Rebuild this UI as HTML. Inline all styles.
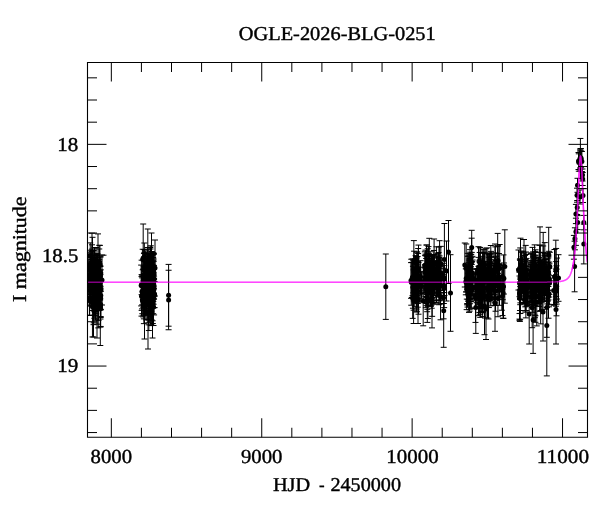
<!DOCTYPE html>
<html><head><meta charset="utf-8"><title>OGLE-2026-BLG-0251</title>
<style>
html,body{margin:0;padding:0;background:#fff;}
svg{display:block;will-change:transform;font-family:"Liberation Serif",serif;}
text{fill:#000;stroke:#000;stroke-width:0.4px;stroke-linejoin:round;text-rendering:geometricPrecision;}
</style></head><body>
<svg width="600" height="512" viewBox="0 0 600 512">
<rect width="600" height="512" fill="#fff"/>
<clipPath id="fr"><rect x="87.5" y="62.5" width="500.0" height="374.75"/></clipPath>
<g clip-path="url(#fr)">
<path d="M90.71 260.79V284.93M87.71 260.79h6M87.71 284.93h6M91.74 259.49V282.25M88.74 259.49h6M88.74 282.25h6M92.75 262.52V291.88M89.75 262.52h6M89.75 291.88h6M93.22 255.99V283.93M90.22 255.99h6M90.22 283.93h6M89.46 285.94V315.45M86.46 285.94h6M86.46 315.45h6M90.72 264.26V288.3M87.72 264.26h6M87.72 288.3h6M89.67 280.5V315.17M86.67 280.5h6M86.67 315.17h6M90.98 266.08V289.98M87.98 266.08h6M87.98 289.98h6M90.75 269.92V294.15M87.75 269.92h6M87.75 294.15h6M91.82 268.16V288.16M88.82 268.16h6M88.82 288.16h6M89.99 271.38V298.31M86.99 271.38h6M86.99 298.31h6M93.18 257.98V287.33M90.18 257.98h6M90.18 287.33h6M90.75 267.92V292.09M87.75 267.92h6M87.75 292.09h6M88.92 252.01V278.53M85.92 252.01h6M85.92 278.53h6M92.03 244.81V272.04M89.03 244.81h6M89.03 272.04h6M89.46 265.3V286.06M86.46 265.3h6M86.46 286.06h6M90.58 257.46V281.59M87.58 257.46h6M87.58 281.59h6M90.82 273.89V298.76M87.82 273.89h6M87.82 298.76h6M90.68 259.27V279.37M87.68 259.27h6M87.68 279.37h6M91.08 280.15V300.15M88.08 280.15h6M88.08 300.15h6M91.3 261.53V286.57M88.3 261.53h6M88.3 286.57h6M90.7 262.78V305.76M87.7 262.78h6M87.7 305.76h6M92.02 263.16V283.16M89.02 263.16h6M89.02 283.16h6M91.69 272.03V292.28M88.69 272.03h6M88.69 292.28h6M89.61 267.73V304.1M86.61 267.73h6M86.61 304.1h6M90.89 269.92V294.2M87.89 269.92h6M87.89 294.2h6M92.01 251.21V281.69M89.01 251.21h6M89.01 281.69h6M91.67 262.05V289.97M88.67 262.05h6M88.67 289.97h6M89.59 275.1V305.97M86.59 275.1h6M86.59 305.97h6M89.12 263.1V294.84M86.12 263.1h6M86.12 294.84h6M89.63 269.42V294.92M86.63 269.42h6M86.63 294.92h6M90.7 268.34V290.67M87.7 268.34h6M87.7 290.67h6M90.23 242.89V268.29M87.23 242.89h6M87.23 268.29h6M90.94 273.91V293.91M87.94 273.91h6M87.94 293.91h6M89.31 266.18V287.55M86.31 266.18h6M86.31 287.55h6M90.52 254.24V279.04M87.52 254.24h6M87.52 279.04h6M90.92 267.46V293.99M87.92 267.46h6M87.92 293.99h6M90.88 250.23V281.4M87.88 250.23h6M87.88 281.4h6M90.92 269.86V294.57M87.92 269.86h6M87.92 294.57h6M92.01 249.14V275.23M89.01 249.14h6M89.01 275.23h6M94.63 260.33V292.39M91.63 260.33h6M91.63 292.39h6M100.49 274.67V319.02M97.49 274.67h6M97.49 319.02h6M98.33 267.26V294.47M95.33 267.26h6M95.33 294.47h6M98.54 290.03V320.39M95.54 290.03h6M95.54 320.39h6M95.42 285.56V320.03M92.42 285.56h6M92.42 320.03h6M96.97 255.03V287.45M93.97 255.03h6M93.97 287.45h6M100.38 265.97V286.14M97.38 265.97h6M97.38 286.14h6M96.65 269.82V295.29M93.65 269.82h6M93.65 295.29h6M94.39 265.5V285.5M91.39 265.5h6M91.39 285.5h6M100.69 269.74V309.5M97.69 269.74h6M97.69 309.5h6M99.07 274.98V307.02M96.07 274.98h6M96.07 307.02h6M93.83 270.11V296.7M90.83 270.11h6M90.83 296.7h6M94.48 247.77V272.83M91.48 247.77h6M91.48 272.83h6M93.5 280.05V301.81M90.5 280.05h6M90.5 301.81h6M93.58 277.81V301.42M90.58 277.81h6M90.58 301.42h6M95.94 280.07V310.57M92.94 280.07h6M92.94 310.57h6M95.47 261.43V302.27M92.47 261.43h6M92.47 302.27h6M96.15 277.45V309.45M93.15 277.45h6M93.15 309.45h6M96.77 254.22V274.23M93.77 254.22h6M93.77 274.23h6M99.89 256.85V295.24M96.89 256.85h6M96.89 295.24h6M97.97 272.54V298.02M94.97 272.54h6M94.97 298.02h6M97.67 261.62V289.38M94.67 261.62h6M94.67 289.38h6M96.17 278.03V313.67M93.17 278.03h6M93.17 313.67h6M99.07 261.56V296.66M96.07 261.56h6M96.07 296.66h6M97.3 279.46V299.46M94.3 279.46h6M94.3 299.46h6M93.7 250.55V278.61M90.7 250.55h6M90.7 278.61h6M97.32 272.96V303.53M94.32 272.96h6M94.32 303.53h6M93.5 261.83V291.14M90.5 261.83h6M90.5 291.14h6M100.44 286.83V327.14M97.44 286.83h6M97.44 327.14h6M94.77 277.52V297.52M91.77 277.52h6M91.77 297.52h6M100.17 270.64V299.98M97.17 270.64h6M97.17 299.98h6M99.46 281.86V301.96M96.46 281.86h6M96.46 301.96h6M94.53 257.11V292.11M91.53 257.11h6M91.53 292.11h6M96.21 253.76V288.1M93.21 253.76h6M93.21 288.1h6M95.32 262.44V305.4M92.32 262.44h6M92.32 305.4h6M95.8 261.01V296.34M92.8 261.01h6M92.8 296.34h6M97.26 259.0V279.0M94.26 259.0h6M94.26 279.0h6M94.47 257.51V291.13M91.47 257.51h6M91.47 291.13h6M94.85 247.81V282.58M91.85 247.81h6M91.85 282.58h6M97.49 253.76V281.6M94.49 253.76h6M94.49 281.6h6M95.2 267.18V287.18M92.2 267.18h6M92.2 287.18h6M94.47 274.67V298.69M91.47 274.67h6M91.47 298.69h6M100.71 280.68V316.55M97.71 280.68h6M97.71 316.55h6M97.29 268.59V288.94M94.29 268.59h6M94.29 288.94h6M100.11 265.92V287.7M97.11 265.92h6M97.11 287.7h6M99.95 245.36V283.26M96.95 245.36h6M96.95 283.26h6M97.15 295.66V324.17M94.15 295.66h6M94.15 324.17h6M96.92 255.62V288.67M93.92 255.62h6M93.92 288.67h6M94.69 277.55V303.06M91.69 277.55h6M91.69 303.06h6M94.33 288.47V318.28M91.33 288.47h6M91.33 318.28h6M93.76 276.99V296.99M90.76 276.99h6M90.76 296.99h6M99.21 259.71V285.3M96.21 259.71h6M96.21 285.3h6M93.73 298.37V322.8M90.73 298.37h6M90.73 322.8h6M97.85 274.85V303.58M94.85 274.85h6M94.85 303.58h6M95.01 277.91V298.41M92.01 277.91h6M92.01 298.41h6M100.68 291.04V326.46M97.68 291.04h6M97.68 326.46h6M93.5 284.33V324.66M90.5 284.33h6M90.5 324.66h6M98.25 266.73V304.87M95.25 266.73h6M95.25 304.87h6M100.79 256.89V288.91M97.79 256.89h6M97.79 288.91h6M94.4 288.18V315.29M91.4 288.18h6M91.4 315.29h6M98.37 264.41V285.88M95.37 264.41h6M95.37 285.88h6M95.52 275.18V299.5M92.52 275.18h6M92.52 299.5h6M94.63 280.46V302.79M91.63 280.46h6M91.63 302.79h6M93.5 272.48V302.09M90.5 272.48h6M90.5 302.09h6M95.19 273.65V302.93M92.19 273.65h6M92.19 302.93h6M100.8 281.34V309.84M97.8 281.34h6M97.8 309.84h6M96.02 247.54V282.21M93.02 247.54h6M93.02 282.21h6M97.53 282.64V309.67M94.53 282.64h6M94.53 309.67h6M96.69 280.16V309.45M93.69 280.16h6M93.69 309.45h6M95.04 272.49V295.25M92.04 272.49h6M92.04 295.25h6M93.98 275.43V302.81M90.98 275.43h6M90.98 302.81h6M95.64 286.55V308.04M92.64 286.55h6M92.64 308.04h6M96.68 272.06V297.19M93.68 272.06h6M93.68 297.19h6M97.88 267.23V294.3M94.88 267.23h6M94.88 294.3h6M97.19 259.83V285.46M94.19 259.83h6M94.19 285.46h6M95.49 275.42V320.02M92.49 275.42h6M92.49 320.02h6M97.55 270.02V290.02M94.55 270.02h6M94.55 290.02h6M97.32 281.76V306.27M94.32 281.76h6M94.32 306.27h6M99.25 248.98V275.64M96.25 248.98h6M96.25 275.64h6M100.72 291.31V317.46M97.72 291.31h6M97.72 317.46h6M150.95 264.85V289.34M147.95 264.85h6M147.95 289.34h6M152.08 252.01V278.73M149.08 252.01h6M149.08 278.73h6M150.68 278.12V311.17M147.68 278.12h6M147.68 311.17h6M145.65 252.18V285.29M142.65 252.18h6M142.65 285.29h6M153.68 261.64V285.3M150.68 261.64h6M150.68 285.3h6M148.58 280.55V324.84M145.58 280.55h6M145.58 324.84h6M147.26 253.77V286.14M144.26 253.77h6M144.26 286.14h6M148.62 266.48V288.05M145.62 266.48h6M145.62 288.05h6M150.34 284.4V318.76M147.34 284.4h6M147.34 318.76h6M153.14 264.09V294.88M150.14 264.09h6M150.14 294.88h6M149.79 258.4V298.74M146.79 258.4h6M146.79 298.74h6M149.96 277.72V300.09M146.96 277.72h6M146.96 300.09h6M151.83 273.41V293.41M148.83 273.41h6M148.83 293.41h6M153.52 288.61V325.53M150.52 288.61h6M150.52 325.53h6M147.77 247.53V276.84M144.77 247.53h6M144.77 276.84h6M148.07 271.6V295.28M145.07 271.6h6M145.07 295.28h6M148.17 277.93V305.16M145.17 277.93h6M145.17 305.16h6M153.26 272.64V292.64M150.26 272.64h6M150.26 292.64h6M151.61 264.95V288.16M148.61 264.95h6M148.61 288.16h6M149.12 280.13V305.76M146.12 280.13h6M146.12 305.76h6M149.93 278.94V305.81M146.93 278.94h6M146.93 305.81h6M153.7 259.05V288.65M150.7 259.05h6M150.7 288.65h6M151.67 263.39V288.67M148.67 263.39h6M148.67 288.67h6M144.45 273.04V296.92M141.45 273.04h6M141.45 296.92h6M145.27 268.29V303.24M142.27 268.29h6M142.27 303.24h6M141.17 265.08V305.92M138.17 265.08h6M138.17 305.92h6M150.0 279.9V303.82M147.0 279.9h6M147.0 303.82h6M150.42 261.73V284.51M147.42 261.73h6M147.42 284.51h6M153.11 257.65V283.28M150.11 257.65h6M150.11 283.28h6M148.19 249.15V270.84M145.19 249.15h6M145.19 270.84h6M147.23 264.94V300.02M144.23 264.94h6M144.23 300.02h6M145.21 250.87V291.2M142.21 250.87h6M142.21 291.2h6M154.02 265.42V293.7M151.02 265.42h6M151.02 293.7h6M148.8 286.3V320.05M145.8 286.3h6M145.8 320.05h6M145.48 277.04V315.63M142.48 277.04h6M142.48 315.63h6M141.58 274.67V294.67M138.58 274.67h6M138.58 294.67h6M152.5 281.21V304.84M149.5 281.21h6M149.5 304.84h6M143.26 269.05V301.36M140.26 269.05h6M140.26 301.36h6M150.93 270.05V300.79M147.93 270.05h6M147.93 300.79h6M153.62 272.22V296.31M150.62 272.22h6M150.62 296.31h6M145.37 275.87V304.09M142.37 275.87h6M142.37 304.09h6M153.06 267.68V293.2M150.06 267.68h6M150.06 293.2h6M145.93 291.66V314.16M142.93 291.66h6M142.93 314.16h6M152.24 255.81V293.39M149.24 255.81h6M149.24 293.39h6M148.52 273.46V297.9M145.52 273.46h6M145.52 297.9h6M150.75 291.4V325.62M147.75 291.4h6M147.75 325.62h6M147.68 277.05V319.59M144.68 277.05h6M144.68 319.59h6M150.12 247.14V274.17M147.12 247.14h6M147.12 274.17h6M143.15 285.43V316.93M140.15 285.43h6M140.15 316.93h6M154.09 276.86V314.92M151.09 276.86h6M151.09 314.92h6M151.6 290.84V319.9M148.6 290.84h6M148.6 319.9h6M152.52 255.72V279.88M149.52 255.72h6M149.52 279.88h6M147.91 261.29V292.82M144.91 261.29h6M144.91 292.82h6M148.8 275.81V305.42M145.8 275.81h6M145.8 305.42h6M146.78 255.75V285.01M143.78 255.75h6M143.78 285.01h6M142.12 277.87V304.86M139.12 277.87h6M139.12 304.86h6M149.98 284.51V304.51M146.98 284.51h6M146.98 304.51h6M151.98 275.57V295.57M148.98 275.57h6M148.98 295.57h6M151.54 271.8V305.83M148.54 271.8h6M148.54 305.83h6M143.89 285.98V323.64M140.89 285.98h6M140.89 323.64h6M152.82 269.71V291.77M149.82 269.71h6M149.82 291.77h6M142.07 275.08V308.86M139.07 275.08h6M139.07 308.86h6M151.69 294.62V325.28M148.69 294.62h6M148.69 325.28h6M150.22 276.17V306.44M147.22 276.17h6M147.22 306.44h6M144.18 270.58V294.34M141.18 270.58h6M141.18 294.34h6M143.55 280.97V302.66M140.55 280.97h6M140.55 302.66h6M149.79 284.6V317.11M146.79 284.6h6M146.79 317.11h6M150.17 280.01V301.38M147.17 280.01h6M147.17 301.38h6M152.83 289.87V323.54M149.83 289.87h6M149.83 323.54h6M152.77 278.69V299.3M149.77 278.69h6M149.77 299.3h6M143.52 276.7V296.7M140.52 276.7h6M140.52 296.7h6M144.34 243.01V270.65M141.34 243.01h6M141.34 270.65h6M149.82 268.64V302.14M146.82 268.64h6M146.82 302.14h6M148.48 274.55V295.15M145.48 274.55h6M145.48 295.15h6M148.26 285.39V322.76M145.26 285.39h6M145.26 322.76h6M149.23 273.2V299.89M146.23 273.2h6M146.23 299.89h6M154.6 281.56V307.61M151.6 281.56h6M151.6 307.61h6M148.33 272.03V292.03M145.33 272.03h6M145.33 292.03h6M148.39 254.54V280.41M145.39 254.54h6M145.39 280.41h6M144.91 271.5V298.16M141.91 271.5h6M141.91 298.16h6M148.33 263.67V283.67M145.33 263.67h6M145.33 283.67h6M142.39 276.11V296.11M139.39 276.11h6M139.39 296.11h6M150.26 268.73V294.45M147.26 268.73h6M147.26 294.45h6M153.35 252.67V281.14M150.35 252.67h6M150.35 281.14h6M142.32 286.19V313.7M139.32 286.19h6M139.32 313.7h6M148.85 275.84V306.57M145.85 275.84h6M145.85 306.57h6M147.95 256.96V283.7M144.95 256.96h6M144.95 283.7h6M151.63 252.81V289.66M148.63 252.81h6M148.63 289.66h6M142.69 249.25V269.79M139.69 249.25h6M139.69 269.79h6M150.58 271.33V301.0M147.58 271.33h6M147.58 301.0h6M152.83 278.53V306.22M149.83 278.53h6M149.83 306.22h6M152.84 273.05V302.17M149.84 273.05h6M149.84 302.17h6M153.72 274.93V298.5M150.72 274.93h6M150.72 298.5h6M153.26 266.89V288.01M150.26 266.89h6M150.26 288.01h6M149.93 263.15V300.8M146.93 263.15h6M146.93 300.8h6M147.43 277.19V297.69M144.43 277.19h6M144.43 297.69h6M146.12 277.08V297.84M143.12 277.08h6M143.12 297.84h6M149.97 275.49V298.6M146.97 275.49h6M146.97 298.6h6M151.79 251.51V282.76M148.79 251.51h6M148.79 282.76h6M144.34 252.35V282.09M141.34 252.35h6M141.34 282.09h6M150.85 279.47V316.14M147.85 279.47h6M147.85 316.14h6M153.31 254.57V301.43M150.31 254.57h6M150.31 301.43h6M145.51 261.86V287.0M142.51 261.86h6M142.51 287.0h6M149.4 278.08V299.78M146.4 278.08h6M146.4 299.78h6M146.98 253.45V284.74M143.98 253.45h6M143.98 284.74h6M146.1 284.93V319.88M143.1 284.93h6M143.1 319.88h6M149.01 272.47V295.21M146.01 272.47h6M146.01 295.21h6M151.58 257.46V290.05M148.58 257.46h6M148.58 290.05h6M153.65 253.89V278.95M150.65 253.89h6M150.65 278.95h6M151.54 279.61V306.7M148.54 279.61h6M148.54 306.7h6M151.33 280.54V301.4M148.33 280.54h6M148.33 301.4h6M149.53 276.99V296.99M146.53 276.99h6M146.53 296.99h6M152.14 264.66V295.26M149.14 264.66h6M149.14 295.26h6M151.74 279.97V300.03M148.74 279.97h6M148.74 300.03h6M150.8 279.36V310.42M147.8 279.36h6M147.8 310.42h6M149.67 253.57V276.07M146.67 253.57h6M146.67 276.07h6M145.26 278.32V304.9M142.26 278.32h6M142.26 304.9h6M153.56 254.37V286.57M150.56 254.37h6M150.56 286.57h6M147.63 261.13V292.45M144.63 261.13h6M144.63 292.45h6M148.14 285.38V305.38M145.14 285.38h6M145.14 305.38h6M151.8 286.89V307.75M148.8 286.89h6M148.8 307.75h6M147.03 270.77V294.37M144.03 270.77h6M144.03 294.37h6M152.42 261.4V284.28M149.42 261.4h6M149.42 284.28h6M149.51 270.82V298.52M146.51 270.82h6M146.51 298.52h6M150.48 248.99V275.88M147.48 248.99h6M147.48 275.88h6M149.97 257.35V281.77M146.97 257.35h6M146.97 281.77h6M145.43 278.5V301.7M142.43 278.5h6M142.43 301.7h6M150.15 286.3V314.01M147.15 286.3h6M147.15 314.01h6M152.81 272.63V303.73M149.81 272.63h6M149.81 303.73h6M148.49 253.74V300.37M145.49 253.74h6M145.49 300.37h6M147.99 259.03V290.55M144.99 259.03h6M144.99 290.55h6M143.71 275.49V299.17M140.71 275.49h6M140.71 299.17h6M153.81 253.44V293.7M150.81 253.44h6M150.81 293.7h6M153.6 275.35V304.22M150.6 275.35h6M150.6 304.22h6M150.74 263.16V286.24M147.74 263.16h6M147.74 286.24h6M149.2 286.26V308.38M146.2 286.26h6M146.2 308.38h6M153.11 257.72V286.15M150.11 257.72h6M150.11 286.15h6M143.7 266.22V307.75M140.7 266.22h6M140.7 307.75h6M143.32 286.87V307.18M140.32 286.87h6M140.32 307.18h6M152.31 277.22V300.83M149.31 277.22h6M149.31 300.83h6M145.03 269.58V298.88M142.03 269.58h6M142.03 298.88h6M147.79 273.33V295.83M144.79 273.33h6M144.79 295.83h6M147.36 272.8V297.51M144.36 272.8h6M144.36 297.51h6M149.63 254.07V275.72M146.63 254.07h6M146.63 275.72h6M152.57 286.83V320.78M149.57 286.83h6M149.57 320.78h6M153.21 287.43V313.69M150.21 287.43h6M150.21 313.69h6M146.55 274.59V310.9M143.55 274.59h6M143.55 310.9h6M150.34 270.89V302.32M147.34 270.89h6M147.34 302.32h6M147.08 264.98V291.84M144.08 264.98h6M144.08 291.84h6M153.12 265.5V299.33M150.12 265.5h6M150.12 299.33h6M154.07 278.57V299.24M151.07 278.57h6M151.07 299.24h6M147.83 272.96V292.96M144.83 272.96h6M144.83 292.96h6M143.91 273.58V302.66M140.91 273.58h6M140.91 302.66h6M149.99 257.42V279.17M146.99 257.42h6M146.99 279.17h6M151.4 274.79V311.84M148.4 274.79h6M148.4 311.84h6M154.08 279.37V307.71M151.08 279.37h6M151.08 307.71h6M148.99 286.35V314.37M145.99 286.35h6M145.99 314.37h6M143.3 294.09V315.24M140.3 294.09h6M140.3 315.24h6M153.42 260.65V296.02M150.42 260.65h6M150.42 296.02h6M149.67 280.88V313.1M146.67 280.88h6M146.67 313.1h6M97.85 257.44V304.23M94.85 257.44h6M94.85 304.23h6M92.0 251.86V303.58M89.0 251.86h6M89.0 303.58h6M92.44 276.75V336.95M89.44 276.75h6M89.44 336.95h6M92.86 250.49V296.22M89.86 250.49h6M89.86 296.22h6M98.23 275.83V327.9M95.23 275.83h6M95.23 327.9h6M95.35 264.14V315.85M92.35 264.14h6M92.35 315.85h6M95.86 255.25V308.64M92.86 255.25h6M92.86 308.64h6M92.57 266.06V310.48M89.57 266.06h6M89.57 310.48h6M148.85 274.65V330.52M145.85 274.65h6M145.85 330.52h6M145.03 261.39V314.79M142.03 261.39h6M142.03 314.79h6M150.78 245.78V291.9M147.78 245.78h6M147.78 291.9h6M150.33 258.21V295.6M147.33 258.21h6M147.33 295.6h6M143.85 259.05V318.85M140.85 259.05h6M140.85 318.85h6M141.5 276.61V316.11M138.5 276.61h6M138.5 316.11h6M146.75 265.1V310.67M143.75 265.1h6M143.75 310.67h6M141.64 260.17V310.37M138.64 260.17h6M138.64 310.37h6M152.42 262.43V308.47M149.42 262.43h6M149.42 308.47h6M148.35 259.56V299.99M145.35 259.56h6M145.35 299.99h6M143.95 253.57V301.24M140.95 253.57h6M140.95 301.24h6M150.29 247.55V308.81M147.29 247.55h6M147.29 308.81h6M149.77 269.23V321.96M146.77 269.23h6M146.77 321.96h6M144.09 249.65V300.04M141.09 249.65h6M141.09 300.04h6M418.5 262.46V291.08M415.5 262.46h6M415.5 291.08h6M417.72 266.38V302.08M414.72 266.38h6M414.72 302.08h6M417.47 265.74V303.4M414.47 265.74h6M414.47 303.4h6M417.35 272.32V301.49M414.35 272.32h6M414.35 301.49h6M414.7 272.18V298.89M411.7 272.18h6M411.7 298.89h6M412.65 262.31V297.39M409.65 262.31h6M409.65 297.39h6M415.6 255.65V295.32M412.6 255.65h6M412.6 295.32h6M415.96 256.37V291.06M412.96 256.37h6M412.96 291.06h6M412.54 258.93V295.66M409.54 258.93h6M409.54 295.66h6M418.09 253.54V284.67M415.09 253.54h6M415.09 284.67h6M414.34 268.11V302.87M411.34 268.11h6M411.34 302.87h6M411.0 262.63V298.29M408.0 262.63h6M408.0 298.29h6M414.07 251.2V291.19M411.07 251.2h6M411.07 291.19h6M416.69 258.03V293.05M413.69 258.03h6M413.69 293.05h6M413.63 269.94V310.2M410.63 269.94h6M410.63 310.2h6M417.5 270.16V295.78M414.5 270.16h6M414.5 295.78h6M416.55 264.11V312.07M413.55 264.11h6M413.55 312.07h6M416.31 257.34V293.67M413.31 257.34h6M413.31 293.67h6M417.07 268.89V296.25M414.07 268.89h6M414.07 296.25h6M415.27 270.7V297.63M412.27 270.7h6M412.27 297.63h6M417.11 268.46V294.78M414.11 268.46h6M414.11 294.78h6M416.83 262.96V295.38M413.83 262.96h6M413.83 295.38h6M416.91 271.25V311.32M413.91 271.25h6M413.91 311.32h6M417.26 256.66V286.39M414.26 256.66h6M414.26 286.39h6M413.82 269.11V301.04M410.82 269.11h6M410.82 301.04h6M418.07 271.67V301.73M415.07 271.67h6M415.07 301.73h6M412.66 278.1V318.37M409.66 278.1h6M409.66 318.37h6M411.98 262.47V297.49M408.98 262.47h6M408.98 297.49h6M412.92 266.28V308.21M409.92 266.28h6M409.92 308.21h6M415.53 259.02V282.21M412.53 259.02h6M412.53 282.21h6M414.92 258.92V302.75M411.92 258.92h6M411.92 302.75h6M414.84 272.39V306.73M411.84 272.39h6M411.84 306.73h6M417.33 261.41V287.52M414.33 261.41h6M414.33 287.52h6M416.56 264.49V299.97M413.56 264.49h6M413.56 299.97h6M418.5 245.09V314.21M415.5 245.09h6M415.5 314.21h6M416.84 269.29V291.73M413.84 269.29h6M413.84 291.73h6M417.41 267.89V292.18M414.41 267.89h6M414.41 292.18h6M413.21 260.25V292.88M410.21 260.25h6M410.21 292.88h6M417.74 262.28V288.86M414.74 262.28h6M414.74 288.86h6M411.27 259.23V305.21M408.27 259.23h6M408.27 305.21h6M418.18 248.52V303.18M415.18 248.52h6M415.18 303.18h6M415.36 271.1V300.82M412.36 271.1h6M412.36 300.82h6M416.58 259.13V287.46M413.58 259.13h6M413.58 287.46h6M415.9 258.84V293.19M412.9 258.84h6M412.9 293.19h6M417.74 274.15V307.16M414.74 274.15h6M414.74 307.16h6M417.53 256.44V298.04M414.53 256.44h6M414.53 298.04h6M417.41 264.06V298.32M414.41 264.06h6M414.41 298.32h6M417.19 251.98V290.46M414.19 251.98h6M414.19 290.46h6M416.02 267.5V302.77M413.02 267.5h6M413.02 302.77h6M416.88 252.06V301.57M413.88 252.06h6M413.88 301.57h6M416.68 268.08V309.05M413.68 268.08h6M413.68 309.05h6M417.54 270.85V299.91M414.54 270.85h6M414.54 299.91h6M421.54 273.93V298.77M418.54 273.93h6M418.54 298.77h6M420.87 272.24V300.7M417.87 272.24h6M417.87 300.7h6M420.64 260.7V293.44M417.64 260.7h6M417.64 293.44h6M421.83 271.65V293.04M418.83 271.65h6M418.83 293.04h6M420.67 267.23V294.8M417.67 267.23h6M417.67 294.8h6M425.13 255.59V286.79M422.13 255.59h6M422.13 286.79h6M440.55 273.74V319.8M437.55 273.74h6M437.55 319.8h6M437.98 258.05V296.02M434.98 258.05h6M434.98 296.02h6M436.47 257.31V292.41M433.47 257.31h6M433.47 292.41h6M430.54 267.44V290.93M427.54 267.44h6M427.54 290.93h6M431.71 266.83V308.23M428.71 266.83h6M428.71 308.23h6M430.84 271.43V305.81M427.84 271.43h6M427.84 305.81h6M429.57 256.34V294.69M426.57 256.34h6M426.57 294.69h6M427.64 264.3V287.33M424.64 264.3h6M424.64 287.33h6M432.83 255.57V286.09M429.83 255.57h6M429.83 286.09h6M433.7 269.43V289.68M430.7 269.43h6M430.7 289.68h6M436.51 264.96V302.4M433.51 264.96h6M433.51 302.4h6M428.45 246.58V286.19M425.45 246.58h6M425.45 286.19h6M426.41 269.95V303.53M423.41 269.95h6M423.41 303.53h6M426.62 245.04V286.16M423.62 245.04h6M423.62 286.16h6M424.86 251.8V280.47M421.86 251.8h6M421.86 280.47h6M438.5 262.55V295.52M435.5 262.55h6M435.5 295.52h6M428.01 259.99V287.92M425.01 259.99h6M425.01 287.92h6M425.86 269.77V307.69M422.86 269.77h6M422.86 307.69h6M433.46 254.51V288.79M430.46 254.51h6M430.46 288.79h6M440.93 258.74V287.49M437.93 258.74h6M437.93 287.49h6M431.65 268.43V298.96M428.65 268.43h6M428.65 298.96h6M431.41 268.34V305.12M428.41 268.34h6M428.41 305.12h6M430.12 260.86V290.33M427.12 260.86h6M427.12 290.33h6M429.68 263.33V293.03M426.68 263.33h6M426.68 293.03h6M429.86 258.35V302.5M426.86 258.35h6M426.86 302.5h6M425.82 255.98V283.43M422.82 255.98h6M422.82 283.43h6M430.16 260.36V292.11M427.16 260.36h6M427.16 292.11h6M438.96 246.98V288.02M435.96 246.98h6M435.96 288.02h6M433.7 264.09V288.04M430.7 264.09h6M430.7 288.04h6M426.73 274.41V297.56M423.73 274.41h6M423.73 297.56h6M431.47 256.48V286.6M428.47 256.48h6M428.47 286.6h6M432.15 280.24V316.34M429.15 280.24h6M429.15 316.34h6M428.18 262.81V287.5M425.18 262.81h6M425.18 287.5h6M427.0 268.13V294.56M424.0 268.13h6M424.0 294.56h6M437.06 272.36V297.17M434.06 272.36h6M434.06 297.17h6M440.82 246.36V280.92M437.82 246.36h6M437.82 280.92h6M427.91 282.49V318.56M424.91 282.49h6M424.91 318.56h6M425.44 268.63V293.01M422.44 268.63h6M422.44 293.01h6M427.72 248.76V283.04M424.72 248.76h6M424.72 283.04h6M426.54 267.36V296.53M423.54 267.36h6M423.54 296.53h6M427.17 275.05V311.73M424.17 275.05h6M424.17 311.73h6M437.0 256.65V287.72M434.0 256.65h6M434.0 287.72h6M432.45 263.66V297.72M429.45 263.66h6M429.45 297.72h6M437.14 268.66V288.66M434.14 268.66h6M434.14 288.66h6M428.69 260.4V290.34M425.69 260.4h6M425.69 290.34h6M440.22 262.83V304.05M437.22 262.83h6M437.22 304.05h6M425.42 265.16V288.99M422.42 265.16h6M422.42 288.99h6M432.68 267.52V303.32M429.68 267.52h6M429.68 303.32h6M434.61 254.45V291.13M431.61 254.45h6M431.61 291.13h6M430.9 261.01V290.09M427.9 261.01h6M427.9 290.09h6M431.56 256.11V284.66M428.56 256.11h6M428.56 284.66h6M435.97 263.45V300.37M432.97 263.45h6M432.97 300.37h6M440.27 260.09V290.49M437.27 260.09h6M437.27 290.49h6M439.29 274.93V294.93M436.29 274.93h6M436.29 294.93h6M431.98 263.33V283.33M428.98 263.33h6M428.98 283.33h6M427.03 256.14V285.37M424.03 256.14h6M424.03 285.37h6M429.58 254.71V291.65M426.58 254.71h6M426.58 291.65h6M426.67 279.87V303.03M423.67 279.87h6M423.67 303.03h6M436.19 265.87V286.06M433.19 265.87h6M433.19 286.06h6M433.3 255.72V286.6M430.3 255.72h6M430.3 286.6h6M436.39 246.79V278.26M433.39 246.79h6M433.39 278.26h6M427.56 258.35V299.1M424.56 258.35h6M424.56 299.1h6M439.01 264.61V304.72M436.01 264.61h6M436.01 304.72h6M431.45 268.4V294.75M428.45 268.4h6M428.45 294.75h6M428.22 256.73V301.42M425.22 256.73h6M425.22 301.42h6M439.3 261.07V292.22M436.3 261.07h6M436.3 292.22h6M436.5 267.84V303.14M433.5 267.84h6M433.5 303.14h6M429.57 266.17V287.05M426.57 266.17h6M426.57 287.05h6M425.46 265.37V292.04M422.46 265.37h6M422.46 292.04h6M437.22 265.42V289.61M434.22 265.42h6M434.22 289.61h6M433.34 269.19V304.27M430.34 269.19h6M430.34 304.27h6M433.19 254.6V300.08M430.19 254.6h6M430.19 300.08h6M432.55 255.0V293.19M429.55 255.0h6M429.55 293.19h6M438.55 252.49V284.49M435.55 252.49h6M435.55 284.49h6M426.53 254.18V285.08M423.53 254.18h6M423.53 285.08h6M432.68 267.35V300.86M429.68 267.35h6M429.68 300.86h6M425.46 250.17V279.63M422.46 250.17h6M422.46 279.63h6M440.36 266.58V292.82M437.36 266.58h6M437.36 292.82h6M425.44 254.22V292.11M422.44 254.22h6M422.44 292.11h6M425.22 267.72V296.78M422.22 267.72h6M422.22 296.78h6M426.68 255.46V283.16M423.68 255.46h6M423.68 283.16h6M439.4 257.56V299.87M436.4 257.56h6M436.4 299.87h6M429.86 263.91V298.54M426.86 263.91h6M426.86 298.54h6M426.42 268.95V305.73M423.42 268.95h6M423.42 305.73h6M426.37 263.66V288.31M423.37 263.66h6M423.37 288.31h6M431.38 256.31V290.97M428.38 256.31h6M428.38 290.97h6M438.44 261.69V296.29M435.44 261.69h6M435.44 296.29h6M432.36 262.11V286.01M429.36 262.11h6M429.36 286.01h6M431.6 258.61V288.51M428.6 258.61h6M428.6 288.51h6M425.14 264.41V290.28M422.14 264.41h6M422.14 290.28h6M438.19 260.68V293.08M435.19 260.68h6M435.19 293.08h6M432.42 267.63V287.63M429.42 267.63h6M429.42 287.63h6M428.22 277.49V306.23M425.22 277.49h6M425.22 306.23h6M433.04 269.14V302.28M430.04 269.14h6M430.04 302.28h6M440.64 271.17V300.16M437.64 271.17h6M437.64 300.16h6M437.86 253.41V295.08M434.86 253.41h6M434.86 295.08h6M429.04 265.51V292.31M426.04 265.51h6M426.04 292.31h6M429.8 266.12V294.1M426.8 266.12h6M426.8 294.1h6M427.08 268.77V292.72M424.08 268.77h6M424.08 292.72h6M427.77 268.87V304.92M424.77 268.87h6M424.77 304.92h6M429.09 253.69V277.55M426.09 253.69h6M426.09 277.55h6M430.19 251.77V286.55M427.19 251.77h6M427.19 286.55h6M436.68 266.72V295.54M433.68 266.72h6M433.68 295.54h6M430.17 271.11V292.42M427.17 271.11h6M427.17 292.42h6M439.59 255.91V293.87M436.59 255.91h6M436.59 293.87h6M431.72 262.87V290.82M428.72 262.87h6M428.72 290.82h6M430.92 269.37V306.29M427.92 269.37h6M427.92 306.29h6M426.74 263.8V302.2M423.74 263.8h6M423.74 302.2h6M433.86 250.48V286.32M430.86 250.48h6M430.86 286.32h6M432.15 269.77V302.48M429.15 269.77h6M429.15 302.48h6M434.23 267.11V295.11M431.23 267.11h6M431.23 295.11h6M432.06 267.88V294.22M429.06 267.88h6M429.06 294.22h6M434.47 265.49V293.25M431.47 265.49h6M431.47 293.25h6M431.7 254.54V281.26M428.7 254.54h6M428.7 281.26h6M437.33 270.3V295.36M434.33 270.3h6M434.33 295.36h6M426.14 258.44V285.76M423.14 258.44h6M423.14 285.76h6M439.51 272.31V300.85M436.51 272.31h6M436.51 300.85h6M430.65 270.02V299.44M427.65 270.02h6M427.65 299.44h6M427.37 275.71V309.34M424.37 275.71h6M424.37 309.34h6M443.59 276.66V318.83M440.59 276.66h6M440.59 318.83h6M444.28 265.65V292.56M441.28 265.65h6M441.28 292.56h6M443.85 268.13V303.51M440.85 268.13h6M440.85 303.51h6M444.15 268.93V307.6M441.15 268.93h6M441.15 307.6h6M443.34 263.25V289.84M440.34 263.25h6M440.34 289.84h6M470.84 262.9V301.55M467.84 262.9h6M467.84 301.55h6M468.36 268.3V299.26M465.36 268.3h6M465.36 299.26h6M467.85 253.33V294.58M464.85 253.33h6M464.85 294.58h6M467.86 256.19V287.36M464.86 256.19h6M464.86 287.36h6M470.39 266.57V298.77M467.39 266.57h6M467.39 298.77h6M470.07 263.2V303.74M467.07 263.2h6M467.07 303.74h6M466.97 269.69V304.83M463.97 269.69h6M463.97 304.83h6M469.62 258.65V309.68M466.62 258.65h6M466.62 309.68h6M470.24 275.37V296.83M467.24 275.37h6M467.24 296.83h6M471.28 254.31V294.21M468.28 254.31h6M468.28 294.21h6M465.8 268.84V294.81M462.8 268.84h6M462.8 294.81h6M469.71 253.38V279.04M466.71 253.38h6M466.71 279.04h6M472.55 260.02V295.0M469.55 260.02h6M469.55 295.0h6M473.11 278.54V298.61M470.11 278.54h6M470.11 298.61h6M468.64 267.01V292.87M465.64 267.01h6M465.64 292.87h6M470.74 275.53V295.57M467.74 275.53h6M467.74 295.57h6M467.15 269.78V303.58M464.15 269.78h6M464.15 303.58h6M471.89 261.98V295.73M468.89 261.98h6M468.89 295.73h6M469.98 271.96V298.08M466.98 271.96h6M466.98 298.08h6M466.65 269.05V309.64M463.65 269.05h6M463.65 309.64h6M466.16 264.94V291.82M463.16 264.94h6M463.16 291.82h6M470.93 254.72V290.56M467.93 254.72h6M467.93 290.56h6M470.24 255.03V289.6M467.24 255.03h6M467.24 289.6h6M466.8 267.96V299.14M463.8 267.96h6M463.8 299.14h6M470.13 252.17V286.38M467.13 252.17h6M467.13 286.38h6M471.77 252.41V295.5M468.77 252.41h6M468.77 295.5h6M468.68 273.51V304.68M465.68 273.51h6M465.68 304.68h6M469.52 265.29V311.23M466.52 265.29h6M466.52 311.23h6M469.63 273.51V295.68M466.63 273.51h6M466.63 295.68h6M470.09 258.97V298.15M467.09 258.97h6M467.09 298.15h6M470.03 267.62V299.44M467.03 267.62h6M467.03 299.44h6M470.0 249.69V284.85M467.0 249.69h6M467.0 284.85h6M471.0 266.88V308.33M468.0 266.88h6M468.0 308.33h6M467.52 266.37V307.08M464.52 266.37h6M464.52 307.08h6M469.94 260.75V295.06M466.94 260.75h6M466.94 295.06h6M468.41 275.63V300.02M465.41 275.63h6M465.41 300.02h6M470.84 272.13V307.93M467.84 272.13h6M467.84 307.93h6M468.81 262.32V305.84M465.81 262.32h6M465.81 305.84h6M469.29 260.85V291.72M466.29 260.85h6M466.29 291.72h6M469.25 259.88V306.92M466.25 259.88h6M466.25 306.92h6M470.56 258.76V301.72M467.56 258.76h6M467.56 301.72h6M472.22 261.36V289.52M469.22 261.36h6M469.22 289.52h6M471.4 262.78V291.68M468.4 262.78h6M468.4 291.68h6M471.48 257.58V288.89M468.48 257.58h6M468.48 288.89h6M470.01 269.96V294.32M467.01 269.96h6M467.01 294.32h6M469.96 258.38V289.63M466.96 258.38h6M466.96 289.63h6M470.23 265.05V288.92M467.23 265.05h6M467.23 288.92h6M469.44 255.21V291.76M466.44 255.21h6M466.44 291.76h6M468.15 273.37V301.29M465.15 273.37h6M465.15 301.29h6M468.33 256.35V295.88M465.33 256.35h6M465.33 295.88h6M472.44 256.35V289.23M469.44 256.35h6M469.44 289.23h6M468.23 268.23V303.82M465.23 268.23h6M465.23 303.82h6M475.0 273.23V300.78M472.0 273.23h6M472.0 300.78h6M475.39 269.25V293.34M472.39 269.25h6M472.39 293.34h6M475.37 282.8V308.7M472.37 282.8h6M472.37 308.7h6M476.74 269.06V302.71M473.74 269.06h6M473.74 302.71h6M475.79 268.76V291.71M472.79 268.76h6M472.79 291.71h6M475.49 274.3V322.42M472.49 274.3h6M472.49 322.42h6M482.09 270.05V307.52M479.09 270.05h6M479.09 307.52h6M482.63 273.19V316.57M479.63 273.19h6M479.63 316.57h6M495.49 270.36V298.8M492.49 270.36h6M492.49 298.8h6M487.04 264.22V287.94M484.04 264.22h6M484.04 287.94h6M491.7 261.9V299.26M488.7 261.9h6M488.7 299.26h6M482.15 270.99V299.29M479.15 270.99h6M479.15 299.29h6M490.68 265.03V293.1M487.68 265.03h6M487.68 293.1h6M490.59 262.75V296.78M487.59 262.75h6M487.59 296.78h6M488.73 267.85V291.26M485.73 267.85h6M485.73 291.26h6M482.99 249.81V276.93M479.99 249.81h6M479.99 276.93h6M481.63 264.73V311.91M478.63 264.73h6M478.63 311.91h6M489.74 266.3V300.41M486.74 266.3h6M486.74 300.41h6M479.0 267.88V293.18M476.0 267.88h6M476.0 293.18h6M482.18 281.38V312.9M479.18 281.38h6M479.18 312.9h6M498.03 245.7V275.37M495.03 245.7h6M495.03 275.37h6M495.92 252.91V279.33M492.92 252.91h6M492.92 279.33h6M497.81 246.37V289.03M494.81 246.37h6M494.81 289.03h6M487.03 275.13V300.62M484.03 275.13h6M484.03 300.62h6M480.35 267.66V296.1M477.35 267.66h6M477.35 296.1h6M488.85 254.1V307.55M485.85 254.1h6M485.85 307.55h6M483.77 267.37V296.37M480.77 267.37h6M480.77 296.37h6M497.64 266.41V290.87M494.64 266.41h6M494.64 290.87h6M484.05 249.73V286.99M481.05 249.73h6M481.05 286.99h6M479.36 266.73V304.99M476.36 266.73h6M476.36 304.99h6M481.79 260.12V298.48M478.79 260.12h6M478.79 298.48h6M488.85 254.92V282.75M485.85 254.92h6M485.85 282.75h6M480.48 270.51V292.7M477.48 270.51h6M477.48 292.7h6M480.41 271.15V306.87M477.41 271.15h6M477.41 306.87h6M478.1 268.74V303.3M475.1 268.74h6M475.1 303.3h6M483.68 264.02V295.19M480.68 264.02h6M480.68 295.19h6M482.53 261.27V290.02M479.53 261.27h6M479.53 290.02h6M479.89 262.59V287.17M476.89 262.59h6M476.89 287.17h6M490.21 272.48V294.79M487.21 272.48h6M487.21 294.79h6M487.0 247.88V291.84M484.0 247.88h6M484.0 291.84h6M494.42 257.17V295.04M491.42 257.17h6M491.42 295.04h6M499.31 267.55V297.64M496.31 267.55h6M496.31 297.64h6M478.46 266.32V315.64M475.46 266.32h6M475.46 315.64h6M482.59 266.08V288.36M479.59 266.08h6M479.59 288.36h6M488.68 257.23V290.05M485.68 257.23h6M485.68 290.05h6M480.28 265.97V296.67M477.28 265.97h6M477.28 296.67h6M478.0 272.74V296.47M475.0 272.74h6M475.0 296.47h6M491.47 261.86V297.11M488.47 261.86h6M488.47 297.11h6M483.64 262.36V292.88M480.64 262.36h6M480.64 292.88h6M499.44 264.74V296.42M496.44 264.74h6M496.44 296.42h6M479.6 260.25V292.35M476.6 260.25h6M476.6 292.35h6M482.98 263.18V311.57M479.98 263.18h6M479.98 311.57h6M482.52 268.31V295.47M479.52 268.31h6M479.52 295.47h6M488.74 263.08V300.12M485.74 263.08h6M485.74 300.12h6M480.14 262.06V314.33M477.14 262.06h6M477.14 314.33h6M491.57 253.79V291.39M488.57 253.79h6M488.57 291.39h6M482.96 253.2V281.24M479.96 253.2h6M479.96 281.24h6M495.97 256.23V285.88M492.97 256.23h6M492.97 285.88h6M490.97 259.34V299.44M487.97 259.34h6M487.97 299.44h6M497.94 280.04V316.74M494.94 280.04h6M494.94 316.74h6M491.57 254.94V292.03M488.57 254.94h6M488.57 292.03h6M489.67 268.2V300.85M486.67 268.2h6M486.67 300.85h6M499.24 269.42V299.08M496.24 269.42h6M496.24 299.08h6M481.0 266.15V291.91M478.0 266.15h6M478.0 291.91h6M479.44 266.01V300.05M476.44 266.01h6M476.44 300.05h6M491.52 252.87V297.02M488.52 252.87h6M488.52 297.02h6M478.45 257.36V287.47M475.45 257.36h6M475.45 287.47h6M479.64 261.95V282.38M476.64 261.95h6M476.64 282.38h6M479.37 267.25V297.42M476.37 267.25h6M476.37 297.42h6M481.55 267.8V307.78M478.55 267.8h6M478.55 307.78h6M479.7 265.59V296.29M476.7 265.59h6M476.7 296.29h6M491.61 275.53V300.95M488.61 275.53h6M488.61 300.95h6M494.15 273.22V305.35M491.15 273.22h6M491.15 305.35h6M498.37 264.08V292.07M495.37 264.08h6M495.37 292.07h6M483.1 252.14V301.05M480.1 252.14h6M480.1 301.05h6M482.31 258.18V289.92M479.31 258.18h6M479.31 289.92h6M484.71 264.93V298.78M481.71 264.93h6M481.71 298.78h6M479.18 268.16V293.82M476.18 268.16h6M476.18 293.82h6M482.59 268.82V297.26M479.59 268.82h6M479.59 297.26h6M493.76 269.35V293.98M490.76 269.35h6M490.76 293.98h6M498.21 273.35V296.15M495.21 273.35h6M495.21 296.15h6M494.68 269.32V294.25M491.68 269.32h6M491.68 294.25h6M498.9 253.49V284.15M495.9 253.49h6M495.9 284.15h6M482.76 268.86V308.58M479.76 268.86h6M479.76 308.58h6M491.76 264.09V289.25M488.76 264.09h6M488.76 289.25h6M482.32 270.87V299.67M479.32 270.87h6M479.32 299.67h6M480.3 247.41V284.79M477.3 247.41h6M477.3 284.79h6M482.28 256.3V289.21M479.28 256.3h6M479.28 289.21h6M491.08 257.12V290.23M488.08 257.12h6M488.08 290.23h6M479.66 268.83V308.43M476.66 268.83h6M476.66 308.43h6M492.0 269.62V298.6M489.0 269.62h6M489.0 298.6h6M487.54 253.78V294.49M484.54 253.78h6M484.54 294.49h6M491.07 256.78V297.54M488.07 256.78h6M488.07 297.54h6M495.46 260.52V305.48M492.46 260.52h6M492.46 305.48h6M480.22 263.78V294.8M477.22 263.78h6M477.22 294.8h6M499.5 264.45V305.29M496.5 264.45h6M496.5 305.29h6M499.24 263.76V290.83M496.24 263.76h6M496.24 290.83h6M482.34 270.63V295.94M479.34 270.63h6M479.34 295.94h6M482.17 269.47V295.23M479.17 269.47h6M479.17 295.23h6M479.41 269.76V302.36M476.41 269.76h6M476.41 302.36h6M482.9 253.0V283.76M479.9 253.0h6M479.9 283.76h6M479.58 261.22V299.23M476.58 261.22h6M476.58 299.23h6M491.58 263.42V287.45M488.58 263.42h6M488.58 287.45h6M480.47 262.43V300.03M477.47 262.43h6M477.47 300.03h6M488.48 265.39V290.63M485.48 265.39h6M485.48 290.63h6M495.54 270.85V311.23M492.54 270.85h6M492.54 311.23h6M482.2 261.37V292.24M479.2 261.37h6M479.2 292.24h6M480.2 277.38V317.36M477.2 277.38h6M477.2 317.36h6M495.35 246.87V287.5M492.35 246.87h6M492.35 287.5h6M479.42 266.34V292.77M476.42 266.34h6M476.42 292.77h6M484.77 261.43V295.06M481.77 261.43h6M481.77 295.06h6M479.37 275.14V312.46M476.37 275.14h6M476.37 312.46h6M484.44 252.2V277.51M481.44 252.2h6M481.44 277.51h6M482.79 261.99V312.49M479.79 261.99h6M479.79 312.49h6M482.26 266.52V295.47M479.26 266.52h6M479.26 295.47h6M491.0 251.37V297.33M488.0 251.37h6M488.0 297.33h6M489.98 253.87V297.92M486.98 253.87h6M486.98 297.92h6M480.12 260.72V287.97M477.12 260.72h6M477.12 287.97h6M481.74 274.99V294.99M478.74 274.99h6M478.74 294.99h6M494.28 265.52V289.73M491.28 265.52h6M491.28 289.73h6M490.71 270.71V305.87M487.71 270.71h6M487.71 305.87h6M489.43 252.97V289.81M486.43 252.97h6M486.43 289.81h6M493.73 263.38V287.4M490.73 263.38h6M490.73 287.4h6M480.56 268.43V291.25M477.56 268.43h6M477.56 291.25h6M479.71 252.47V302.85M476.71 252.47h6M476.71 302.85h6M479.94 259.23V297.42M476.94 259.23h6M476.94 297.42h6M490.93 269.1V291.07M487.93 269.1h6M487.93 291.07h6M480.07 247.91V286.1M477.07 247.91h6M477.07 286.1h6M478.0 274.29V304.39M475.0 274.29h6M475.0 304.39h6M494.5 268.79V302.79M491.5 268.79h6M491.5 302.79h6M480.47 268.01V297.96M477.47 268.01h6M477.47 297.96h6M502.4 265.37V287.55M499.4 265.37h6M499.4 287.55h6M501.83 265.16V310.22M498.83 265.16h6M498.83 310.22h6M502.71 278.59V299.68M499.71 278.59h6M499.71 299.68h6M503.9 262.98V294.02M500.9 262.98h6M500.9 294.02h6M502.47 276.61V315.59M499.47 276.61h6M499.47 315.59h6M523.66 264.25V288.49M520.66 264.25h6M520.66 288.49h6M521.42 251.19V293.52M518.42 251.19h6M518.42 293.52h6M521.1 272.63V298.17M518.1 272.63h6M518.1 298.17h6M525.91 270.84V296.14M522.91 270.84h6M522.91 296.14h6M525.57 265.74V291.53M522.57 265.74h6M522.57 291.53h6M520.26 269.15V299.5M517.26 269.15h6M517.26 299.5h6M519.5 276.01V320.35M516.5 276.01h6M516.5 320.35h6M521.99 259.52V285.05M518.99 259.52h6M518.99 285.05h6M521.43 274.18V300.02M518.43 274.18h6M518.43 300.02h6M519.5 269.09V296.67M516.5 269.09h6M516.5 296.67h6M526.63 266.27V301.63M523.63 266.27h6M523.63 301.63h6M525.85 278.41V317.88M522.85 278.41h6M522.85 317.88h6M525.65 259.55V293.05M522.65 259.55h6M522.65 293.05h6M524.76 267.6V302.23M521.76 267.6h6M521.76 302.23h6M525.18 273.53V310.86M522.18 273.53h6M522.18 310.86h6M524.9 255.48V287.33M521.9 255.48h6M521.9 287.33h6M522.52 256.84V283.95M519.52 256.84h6M519.52 283.95h6M525.91 251.99V289.97M522.91 251.99h6M522.91 289.97h6M525.24 268.18V306.84M522.24 268.18h6M522.24 306.84h6M525.72 268.68V288.68M522.72 268.68h6M522.72 288.68h6M525.0 259.6V289.11M522.0 259.6h6M522.0 289.11h6M519.5 272.29V313.55M516.5 272.29h6M516.5 313.55h6M523.67 274.34V303.76M520.67 274.34h6M520.67 303.76h6M519.86 259.24V321.44M516.86 259.24h6M516.86 321.44h6M525.05 260.0V286.53M522.05 260.0h6M522.05 286.53h6M526.12 276.65V310.56M523.12 276.65h6M523.12 310.56h6M520.4 267.42V313.41M517.4 267.42h6M517.4 313.41h6M526.53 254.52V306.26M523.53 254.52h6M523.53 306.26h6M526.59 263.81V305.07M523.59 263.81h6M523.59 305.07h6M525.05 273.73V300.59M522.05 273.73h6M522.05 300.59h6M519.98 270.5V310.53M516.98 270.5h6M516.98 310.53h6M524.55 253.0V291.61M521.55 253.0h6M521.55 291.61h6M525.97 269.91V303.17M522.97 269.91h6M522.97 303.17h6M523.14 251.21V298.84M520.14 251.21h6M520.14 298.84h6M523.25 275.78V302.44M520.25 275.78h6M520.25 302.44h6M524.85 269.36V289.36M521.85 269.36h6M521.85 289.36h6M520.21 247.94V286.39M517.21 247.94h6M517.21 286.39h6M520.38 279.34V302.87M517.38 279.34h6M517.38 302.87h6M521.58 252.31V286.32M518.58 252.31h6M518.58 286.32h6M523.53 272.63V303.05M520.53 272.63h6M520.53 303.05h6M526.54 258.41V304.07M523.54 258.41h6M523.54 304.07h6M525.41 268.81V290.49M522.41 268.81h6M522.41 290.49h6M526.13 266.4V292.96M523.13 266.4h6M523.13 292.96h6M519.97 260.31V295.85M516.97 260.31h6M516.97 295.85h6M520.18 269.31V304.7M517.18 269.31h6M517.18 304.7h6M525.56 261.6V292.82M522.56 261.6h6M522.56 292.82h6M523.14 263.16V292.31M520.14 263.16h6M520.14 292.31h6M525.23 266.2V303.81M522.23 266.2h6M522.23 303.81h6M525.45 273.79V312.17M522.45 273.79h6M522.45 312.17h6M520.15 258.85V319.64M517.15 258.85h6M517.15 319.64h6M527.59 270.2V305.67M524.59 270.2h6M524.59 305.67h6M527.68 270.62V302.81M524.68 270.62h6M524.68 302.81h6M527.81 270.2V296.53M524.81 270.2h6M524.81 296.53h6M527.64 270.61V295.46M524.64 270.61h6M524.64 295.46h6M528.92 262.29V305.73M525.92 262.29h6M525.92 305.73h6M532.15 287.7V327.7M529.15 287.7h6M529.15 327.7h6M535.75 274.12V298.61M532.75 274.12h6M532.75 298.61h6M535.35 257.91V292.26M532.35 257.91h6M532.35 292.26h6M532.43 277.22V298.89M529.43 277.22h6M529.43 298.89h6M548.46 255.13V299.88M545.46 255.13h6M545.46 299.88h6M545.06 264.77V288.93M542.06 264.77h6M542.06 288.93h6M533.61 256.76V295.03M530.61 256.76h6M530.61 295.03h6M544.41 279.22V301.64M541.41 279.22h6M541.41 301.64h6M535.58 249.84V280.37M532.58 249.84h6M532.58 280.37h6M535.76 274.42V301.52M532.76 274.42h6M532.76 301.52h6M548.51 274.62V318.23M545.51 274.62h6M545.51 318.23h6M547.28 274.89V303.96M544.28 274.89h6M544.28 303.96h6M533.27 254.63V290.97M530.27 254.63h6M530.27 290.97h6M536.49 262.7V292.22M533.49 262.7h6M533.49 292.22h6M530.98 253.36V297.69M527.98 253.36h6M527.98 297.69h6M534.08 266.94V305.75M531.08 266.94h6M531.08 305.75h6M549.04 251.3V283.82M546.04 251.3h6M546.04 283.82h6M544.73 253.81V290.34M541.73 253.81h6M541.73 290.34h6M544.87 252.79V286.52M541.87 252.79h6M541.87 286.52h6M535.48 255.11V289.21M532.48 255.11h6M532.48 289.21h6M535.48 277.55V315.76M532.48 277.55h6M532.48 315.76h6M530.72 269.64V301.61M527.72 269.64h6M527.72 301.61h6M547.99 262.45V300.99M544.99 262.45h6M544.99 300.99h6M549.33 262.09V304.37M546.33 262.09h6M546.33 304.37h6M531.14 267.93V304.01M528.14 267.93h6M528.14 304.01h6M530.31 274.17V298.15M527.31 274.17h6M527.31 298.15h6M549.0 280.92V306.82M546.0 280.92h6M546.0 306.82h6M538.88 257.56V282.99M535.88 257.56h6M535.88 282.99h6M532.09 264.84V307.56M529.09 264.84h6M529.09 307.56h6M544.58 262.13V290.4M541.58 262.13h6M541.58 290.4h6M531.93 260.84V293.85M528.93 260.84h6M528.93 293.85h6M532.26 266.66V298.49M529.26 266.66h6M529.26 298.49h6M546.24 258.76V283.27M543.24 258.76h6M543.24 283.27h6M541.14 261.82V310.5M538.14 261.82h6M538.14 310.5h6M544.47 271.77V291.77M541.47 271.77h6M541.47 291.77h6M536.99 261.14V289.7M533.99 261.14h6M533.99 289.7h6M540.65 268.23V298.27M537.65 268.23h6M537.65 298.27h6M534.88 273.32V317.67M531.88 273.32h6M531.88 317.67h6M535.64 267.86V301.93M532.64 267.86h6M532.64 301.93h6M536.71 269.8V296.04M533.71 269.8h6M533.71 296.04h6M542.23 273.75V309.6M539.23 273.75h6M539.23 309.6h6M540.0 262.44V287.68M537.0 262.44h6M537.0 287.68h6M546.82 264.97V294.85M543.82 264.97h6M543.82 294.85h6M539.13 259.21V279.21M536.13 259.21h6M536.13 279.21h6M539.04 260.55V291.34M536.04 260.55h6M536.04 291.34h6M535.6 265.46V303.41M532.6 265.46h6M532.6 303.41h6M532.38 274.59V302.54M529.38 274.59h6M529.38 302.54h6M549.8 252.34V280.76M546.8 252.34h6M546.8 280.76h6M548.24 258.04V290.12M545.24 258.04h6M545.24 290.12h6M535.4 273.55V298.88M532.4 273.55h6M532.4 298.88h6M544.78 253.21V284.57M541.78 253.21h6M541.78 284.57h6M534.99 273.38V315.11M531.99 273.38h6M531.99 315.11h6M534.25 258.41V292.98M531.25 258.41h6M531.25 292.98h6M531.32 252.88V291.64M528.32 252.88h6M528.32 291.64h6M543.06 262.33V286.35M540.06 262.33h6M540.06 286.35h6M530.47 264.64V292.33M527.47 264.64h6M527.47 292.33h6M540.61 271.47V297.64M537.61 271.47h6M537.61 297.64h6M538.99 269.29V303.52M535.99 269.29h6M535.99 303.52h6M535.27 269.43V295.64M532.27 269.43h6M532.27 295.64h6M530.15 260.7V287.83M527.15 260.7h6M527.15 287.83h6M534.93 252.29V279.74M531.93 252.29h6M531.93 279.74h6M544.81 259.31V286.58M541.81 259.31h6M541.81 286.58h6M531.34 270.38V302.03M528.34 270.38h6M528.34 302.03h6M532.68 265.28V291.76M529.68 265.28h6M529.68 291.76h6M539.58 260.97V302.66M536.58 260.97h6M536.58 302.66h6M540.33 245.03V297.33M537.33 245.03h6M537.33 297.33h6M545.25 259.63V289.32M542.25 259.63h6M542.25 289.32h6M539.11 252.55V300.89M536.11 252.55h6M536.11 300.89h6M538.68 258.2V294.91M535.68 258.2h6M535.68 294.91h6M532.3 273.87V304.13M529.3 273.87h6M529.3 304.13h6M539.0 270.71V290.8M536.0 270.71h6M536.0 290.8h6M539.58 245.34V288.03M536.58 245.34h6M536.58 288.03h6M532.88 273.24V312.31M529.88 273.24h6M529.88 312.31h6M543.05 252.29V295.53M540.05 252.29h6M540.05 295.53h6M533.85 272.55V295.92M530.85 272.55h6M530.85 295.92h6M535.58 270.33V298.09M532.58 270.33h6M532.58 298.09h6M535.45 255.76V294.22M532.45 255.76h6M532.45 294.22h6M548.06 266.38V290.77M545.06 266.38h6M545.06 290.77h6M535.55 251.67V291.56M532.55 251.67h6M532.55 291.56h6M539.3 260.33V297.27M536.3 260.33h6M536.3 297.27h6M541.82 264.82V299.19M538.82 264.82h6M538.82 299.19h6M533.08 255.9V284.0M530.08 255.9h6M530.08 284.0h6M535.66 264.38V284.38M532.66 264.38h6M532.66 284.38h6M534.65 244.87V283.91M531.65 244.87h6M531.65 283.91h6M538.99 260.03V306.55M535.99 260.03h6M535.99 306.55h6M544.79 261.17V298.89M541.79 261.17h6M541.79 298.89h6M539.37 272.99V303.81M536.37 272.99h6M536.37 303.81h6M540.32 260.6V290.0M537.32 260.6h6M537.32 290.0h6M535.14 260.49V296.41M532.14 260.49h6M532.14 296.41h6M532.26 272.29V304.55M529.26 272.29h6M529.26 304.55h6M543.19 245.96V290.61M540.19 245.96h6M540.19 290.61h6M544.76 256.02V294.8M541.76 256.02h6M541.76 294.8h6M546.87 278.45V307.47M543.87 278.45h6M543.87 307.47h6M542.23 274.07V299.77M539.23 274.07h6M539.23 299.77h6M541.8 275.66V302.13M538.8 275.66h6M538.8 302.13h6M548.12 273.09V294.22M545.12 273.09h6M545.12 294.22h6M532.97 257.09V284.82M529.97 257.09h6M529.97 284.82h6M533.24 262.63V295.4M530.24 262.63h6M530.24 295.4h6M532.35 271.34V299.96M529.35 271.34h6M529.35 299.96h6M544.38 255.27V295.75M541.38 255.27h6M541.38 295.75h6M531.48 272.99V301.06M528.48 272.99h6M528.48 301.06h6M549.28 268.26V297.02M546.28 268.26h6M546.28 297.02h6M539.65 271.87V295.11M536.65 271.87h6M536.65 295.11h6M539.99 263.9V311.05M536.99 263.9h6M536.99 311.05h6M546.71 262.54V301.0M543.71 262.54h6M543.71 301.0h6M543.16 263.29V291.25M540.16 263.29h6M540.16 291.25h6M535.43 269.25V305.57M532.43 269.25h6M532.43 305.57h6M535.45 273.98V304.21M532.45 273.98h6M532.45 304.21h6M538.53 257.11V296.55M535.53 257.11h6M535.53 296.55h6M542.1 265.79V296.99M539.1 265.79h6M539.1 296.99h6M532.68 271.77V300.65M529.68 271.77h6M529.68 300.65h6M548.43 256.81V286.49M545.43 256.81h6M545.43 286.49h6M532.5 270.04V297.12M529.5 270.04h6M529.5 297.12h6M532.83 254.23V283.53M529.83 254.23h6M529.83 283.53h6M536.75 278.19V325.9M533.75 278.19h6M533.75 325.9h6M543.08 274.08V301.05M540.08 274.08h6M540.08 301.05h6M537.08 265.58V295.13M534.08 265.58h6M534.08 295.13h6M533.09 251.86V284.33M530.09 251.86h6M530.09 284.33h6M539.84 268.91V311.23M536.84 268.91h6M536.84 311.23h6M532.55 263.93V290.34M529.55 263.93h6M529.55 290.34h6M540.65 274.81V323.86M537.65 274.81h6M537.65 323.86h6M535.48 269.29V322.31M532.48 269.29h6M532.48 322.31h6M546.51 269.89V297.93M543.51 269.89h6M543.51 297.93h6M549.44 263.78V294.34M546.44 263.78h6M546.44 294.34h6M533.01 271.31V296.97M530.01 271.31h6M530.01 296.97h6M553.6 275.7V305.27M550.6 275.7h6M550.6 305.27h6M556.68 269.11V304.12M553.68 269.11h6M553.68 304.12h6M557.0 258.04V299.03M554.0 258.04h6M554.0 299.03h6M556.09 271.57V302.7M553.09 271.57h6M553.09 302.7h6M555.91 276.3V306.21M552.91 276.3h6M552.91 306.21h6M556.12 248.45V288.75M553.12 248.45h6M553.12 288.75h6M556.17 261.59V296.48M553.17 261.59h6M553.17 296.48h6M168.6 264.4V326.2M165.6 264.4h6M165.6 326.2h6M168.6 270.25V329.75M165.6 270.25h6M165.6 329.75h6M385.8 254.0V319.4M382.8 254.0h6M382.8 319.4h6M92.0 233.2V306.8M89.0 233.2h6M89.0 306.8h6M98.0 233.9V302.1M95.0 233.9h6M95.0 302.1h6M92.5 237.3V294.7M89.5 237.3h6M89.5 294.7h6M99.2 245.3V298.7M96.2 245.3h6M96.2 298.7h6M102.0 255V305M99.0 255h6M99.0 305h6M100.3 266.5V345.5M97.3 266.5h6M97.3 345.5h6M97.0 262V338M94.0 262h6M94.0 338h6M93.5 269V337M90.5 269h6M90.5 337h6M143.2 224V292M140.2 224h6M140.2 292h6M147.8 229V295M144.8 229h6M144.8 295h6M151.5 233V295M148.5 233h6M148.5 295h6M155.0 240V296M152.0 240h6M152.0 296h6M148.0 275V349M145.0 275h6M145.0 349h6M144.5 273V339M141.5 273h6M141.5 339h6M152.5 270V338M149.5 270h6M149.5 338h6M448.5 220.5V283.5M445.5 220.5h6M445.5 283.5h6M444.4 223.5V295.5M441.4 223.5h6M441.4 295.5h6M446.5 241V301M443.5 241h6M443.5 301h6M450.5 254.7V331.3M447.5 254.7h6M447.5 331.3h6M443.7 274.3V347.3M440.7 274.3h6M440.7 347.3h6M413.85 240.6V283.4M410.85 240.6h6M410.85 283.4h6M429.3 238.3V285.7M426.3 238.3h6M426.3 285.7h6M434.1 239V287M431.1 239h6M431.1 287h6M439.6 240.7V287.3M436.6 240.7h6M436.6 287.3h6M426.6 245V289M423.6 245h6M423.6 289h6M413.6 276.5V323.5M410.6 276.5h6M410.6 323.5h6M418.0 274.5V323.5M415.0 274.5h6M415.0 323.5h6M423.2 276.2V325.8M420.2 276.2h6M420.2 325.8h6M432.0 276.1V327.9M429.0 276.1h6M429.0 327.9h6M427.3 275.6V322.4M424.3 275.6h6M424.3 322.4h6M471.7 230.3V264.5M468.7 230.3h6M468.7 264.5h6M471.7 238.2V285.8M468.7 238.2h6M468.7 285.8h6M497.7 233.4V290.6M494.7 233.4h6M494.7 290.6h6M504.8 229.8V303.2M501.8 229.8h6M501.8 303.2h6M503.5 254.9V318.3M500.5 254.9h6M500.5 318.3h6M466.2 244V292M463.2 244h6M463.2 292h6M478.5 246.7V293.3M475.5 246.7h6M475.5 293.3h6M486.0 248.7V295.3M483.0 248.7h6M483.0 295.3h6M490.8 245.5V294.5M487.8 245.5h6M487.8 294.5h6M495.0 244V292M492.0 244h6M492.0 292h6M499.7 244.5V291.5M496.7 244.5h6M496.7 291.5h6M464.8 243V287M461.8 243h6M461.8 287h6M469.0 267.6V312.4M466.0 267.6h6M466.0 312.4h6M475.8 281.4V333.4M472.8 281.4h6M472.8 333.4h6M486.0 278.5V339.5M483.0 278.5h6M483.0 339.5h6M484.5 277.3V334.7M481.5 277.3h6M481.5 334.7h6M495.0 274.7V331.3M492.0 274.7h6M492.0 331.3h6M503.1 267.7V318.3M500.1 267.7h6M500.1 318.3h6M487.5 278V318M484.5 278h6M484.5 318h6M485.0 274V318M482.0 274h6M482.0 318h6M488.5 281V319M485.5 281h6M485.5 319h6M540.0 226.9V297.1M537.0 226.9h6M537.0 297.1h6M543.2 232.4V295.6M540.2 232.4h6M540.2 295.6h6M548.7 227.3V282.1M545.7 227.3h6M545.7 282.1h6M555.8 240.2V299.8M552.8 240.2h6M552.8 299.8h6M554.5 249.5V304.5M551.5 249.5h6M551.5 304.5h6M558.5 254.7V301.3M555.5 254.7h6M555.5 301.3h6M520.5 238.2V291.8M517.5 238.2h6M517.5 291.8h6M524.0 239.5V292.5M521.0 239.5h6M521.0 292.5h6M525.7 245.4V294.6M522.7 245.4h6M522.7 294.6h6M532.5 247.4V296.6M529.5 247.4h6M529.5 296.6h6M544.8 242.6V293.4M541.8 242.6h6M541.8 293.4h6M518.5 250V290M515.5 250h6M515.5 290h6M519.5 268.9V319.1M516.5 268.9h6M516.5 319.1h6M546.8 274.9V375.9M543.8 274.9h6M543.8 375.9h6M546.8 277.5V337.3M543.8 277.5h6M543.8 337.3h6M533.1 286.6V353.4M530.1 286.6h6M530.1 353.4h6M529.2 284V344M526.2 284h6M526.2 344h6M556.0 274.8V344.0M553.0 274.8h6M553.0 344.0h6M556.5 265.8V315.8M553.5 265.8h6M553.5 315.8h6M543.0 283V341M540.0 283h6M540.0 341h6M574.6 241.2V291.8M571.6 241.2h6M571.6 291.8h6M573.9 235.4V259.2M570.9 235.4h6M570.9 259.2h6M574.9 227.8V249.8M571.9 227.8h6M571.9 249.8h6M575.9 218.2V245.4M572.9 218.2h6M572.9 245.4h6M577.7 215.6V229.6M574.7 215.6h6M574.7 229.6h6M575.9 204.4V223.6M572.9 204.4h6M572.9 223.6h6M577.2 200.5V214.5M574.2 200.5h6M574.2 214.5h6M577.0 188.2V202.2M574.0 188.2h6M574.0 202.2h6M580.0 190.0V204.0M577.0 190.0h6M577.0 204.0h6M577.5 178.3V192.3M574.5 178.3h6M574.5 192.3h6M578.5 152.5V169.5M575.5 152.5h6M575.5 169.5h6M578.8 153.8V171.2M575.8 153.8h6M575.8 171.2h6M580.0 151.0V171.0M577.0 151.0h6M577.0 171.0h6M581.9 151.5V171.5M578.9 151.5h6M578.9 171.5h6M580.0 149.0V168.0M577.0 149.0h6M577.0 168.0h6M580.6 150.0V169.0M577.6 150.0h6M577.6 169.0h6M581.2 151.0V167.0M578.2 151.0h6M578.2 167.0h6M580.4 138.45V178.55M577.4 138.45h6M577.4 178.55h6M580.9 148.5V167.1M577.9 148.5h6M577.9 167.1h6M582.5 169.0V181.0M579.5 169.0h6M579.5 181.0h6M582.7 172.5V185.5M579.7 172.5h6M579.7 185.5h6M583.0 188.5V202.5M580.0 188.5h6M580.0 202.5h6M583.8 215.4V229.8M580.8 215.4h6M580.8 229.8h6M583.8 224.1V263.9M580.8 224.1h6M580.8 263.9h6" stroke="#000" stroke-width="1" fill="none"/>
<g fill="#000"><circle cx="90.71" cy="272.86" r="2.5"/><circle cx="91.74" cy="270.87" r="2.5"/><circle cx="92.75" cy="277.2" r="2.5"/><circle cx="93.22" cy="269.96" r="2.5"/><circle cx="89.46" cy="300.7" r="2.5"/><circle cx="90.72" cy="276.28" r="2.5"/><circle cx="89.67" cy="297.84" r="2.5"/><circle cx="90.98" cy="278.03" r="2.5"/><circle cx="90.75" cy="282.03" r="2.5"/><circle cx="91.82" cy="278.16" r="2.5"/><circle cx="89.99" cy="284.84" r="2.5"/><circle cx="93.18" cy="272.65" r="2.5"/><circle cx="90.75" cy="280.0" r="2.5"/><circle cx="88.92" cy="265.27" r="2.5"/><circle cx="92.03" cy="258.42" r="2.5"/><circle cx="89.46" cy="275.68" r="2.5"/><circle cx="90.58" cy="269.53" r="2.5"/><circle cx="90.82" cy="286.33" r="2.5"/><circle cx="90.68" cy="269.32" r="2.5"/><circle cx="91.08" cy="290.15" r="2.5"/><circle cx="91.3" cy="274.05" r="2.5"/><circle cx="90.7" cy="284.27" r="2.5"/><circle cx="92.02" cy="273.16" r="2.5"/><circle cx="91.69" cy="282.16" r="2.5"/><circle cx="89.61" cy="285.92" r="2.5"/><circle cx="90.89" cy="282.06" r="2.5"/><circle cx="92.01" cy="266.45" r="2.5"/><circle cx="91.67" cy="276.01" r="2.5"/><circle cx="89.59" cy="290.54" r="2.5"/><circle cx="89.12" cy="278.97" r="2.5"/><circle cx="89.63" cy="282.17" r="2.5"/><circle cx="90.7" cy="279.5" r="2.5"/><circle cx="90.23" cy="255.59" r="2.5"/><circle cx="90.94" cy="283.91" r="2.5"/><circle cx="89.31" cy="276.87" r="2.5"/><circle cx="90.52" cy="266.64" r="2.5"/><circle cx="90.92" cy="280.73" r="2.5"/><circle cx="90.88" cy="265.81" r="2.5"/><circle cx="90.92" cy="282.21" r="2.5"/><circle cx="92.01" cy="262.18" r="2.5"/><circle cx="94.63" cy="276.36" r="2.5"/><circle cx="100.49" cy="296.84" r="2.5"/><circle cx="98.33" cy="280.86" r="2.5"/><circle cx="98.54" cy="305.21" r="2.5"/><circle cx="95.42" cy="302.79" r="2.5"/><circle cx="96.97" cy="271.24" r="2.5"/><circle cx="100.38" cy="276.06" r="2.5"/><circle cx="96.65" cy="282.56" r="2.5"/><circle cx="94.39" cy="275.5" r="2.5"/><circle cx="100.69" cy="289.62" r="2.5"/><circle cx="99.07" cy="291.0" r="2.5"/><circle cx="93.83" cy="283.41" r="2.5"/><circle cx="94.48" cy="260.3" r="2.5"/><circle cx="93.5" cy="290.93" r="2.5"/><circle cx="93.58" cy="289.62" r="2.5"/><circle cx="95.94" cy="295.32" r="2.5"/><circle cx="95.47" cy="281.85" r="2.5"/><circle cx="96.15" cy="293.45" r="2.5"/><circle cx="96.77" cy="264.23" r="2.5"/><circle cx="99.89" cy="276.05" r="2.5"/><circle cx="97.97" cy="285.28" r="2.5"/><circle cx="97.67" cy="275.5" r="2.5"/><circle cx="96.17" cy="295.85" r="2.5"/><circle cx="99.07" cy="279.11" r="2.5"/><circle cx="97.3" cy="289.46" r="2.5"/><circle cx="93.7" cy="264.58" r="2.5"/><circle cx="97.32" cy="288.25" r="2.5"/><circle cx="93.5" cy="276.48" r="2.5"/><circle cx="100.44" cy="306.99" r="2.5"/><circle cx="94.77" cy="287.52" r="2.5"/><circle cx="100.17" cy="285.31" r="2.5"/><circle cx="99.46" cy="291.91" r="2.5"/><circle cx="94.53" cy="274.61" r="2.5"/><circle cx="96.21" cy="270.93" r="2.5"/><circle cx="95.32" cy="283.92" r="2.5"/><circle cx="95.8" cy="278.67" r="2.5"/><circle cx="97.26" cy="269.0" r="2.5"/><circle cx="94.47" cy="274.32" r="2.5"/><circle cx="94.85" cy="265.19" r="2.5"/><circle cx="97.49" cy="267.68" r="2.5"/><circle cx="95.2" cy="277.18" r="2.5"/><circle cx="94.47" cy="286.68" r="2.5"/><circle cx="100.71" cy="298.61" r="2.5"/><circle cx="97.29" cy="278.76" r="2.5"/><circle cx="100.11" cy="276.81" r="2.5"/><circle cx="99.95" cy="264.31" r="2.5"/><circle cx="97.15" cy="309.91" r="2.5"/><circle cx="96.92" cy="272.15" r="2.5"/><circle cx="94.69" cy="290.3" r="2.5"/><circle cx="94.33" cy="303.38" r="2.5"/><circle cx="93.76" cy="286.99" r="2.5"/><circle cx="99.21" cy="272.51" r="2.5"/><circle cx="93.73" cy="310.58" r="2.5"/><circle cx="97.85" cy="289.21" r="2.5"/><circle cx="95.01" cy="288.16" r="2.5"/><circle cx="100.68" cy="308.75" r="2.5"/><circle cx="93.5" cy="304.5" r="2.5"/><circle cx="98.25" cy="285.8" r="2.5"/><circle cx="100.79" cy="272.9" r="2.5"/><circle cx="94.4" cy="301.74" r="2.5"/><circle cx="98.37" cy="275.14" r="2.5"/><circle cx="95.52" cy="287.34" r="2.5"/><circle cx="94.63" cy="291.62" r="2.5"/><circle cx="93.5" cy="287.29" r="2.5"/><circle cx="95.19" cy="288.29" r="2.5"/><circle cx="100.8" cy="295.59" r="2.5"/><circle cx="96.02" cy="264.88" r="2.5"/><circle cx="97.53" cy="296.15" r="2.5"/><circle cx="96.69" cy="294.8" r="2.5"/><circle cx="95.04" cy="283.87" r="2.5"/><circle cx="93.98" cy="289.12" r="2.5"/><circle cx="95.64" cy="297.29" r="2.5"/><circle cx="96.68" cy="284.63" r="2.5"/><circle cx="97.88" cy="280.76" r="2.5"/><circle cx="97.19" cy="272.65" r="2.5"/><circle cx="95.49" cy="297.72" r="2.5"/><circle cx="97.55" cy="280.02" r="2.5"/><circle cx="97.32" cy="294.02" r="2.5"/><circle cx="99.25" cy="262.31" r="2.5"/><circle cx="100.72" cy="304.39" r="2.5"/><circle cx="150.95" cy="277.1" r="2.5"/><circle cx="152.08" cy="265.37" r="2.5"/><circle cx="150.68" cy="294.64" r="2.5"/><circle cx="145.65" cy="268.73" r="2.5"/><circle cx="153.68" cy="273.47" r="2.5"/><circle cx="148.58" cy="302.7" r="2.5"/><circle cx="147.26" cy="269.95" r="2.5"/><circle cx="148.62" cy="277.26" r="2.5"/><circle cx="150.34" cy="301.58" r="2.5"/><circle cx="153.14" cy="279.48" r="2.5"/><circle cx="149.79" cy="278.57" r="2.5"/><circle cx="149.96" cy="288.9" r="2.5"/><circle cx="151.83" cy="283.41" r="2.5"/><circle cx="153.52" cy="307.07" r="2.5"/><circle cx="147.77" cy="262.19" r="2.5"/><circle cx="148.07" cy="283.44" r="2.5"/><circle cx="148.17" cy="291.55" r="2.5"/><circle cx="153.26" cy="282.64" r="2.5"/><circle cx="151.61" cy="276.55" r="2.5"/><circle cx="149.12" cy="292.94" r="2.5"/><circle cx="149.93" cy="292.37" r="2.5"/><circle cx="153.7" cy="273.85" r="2.5"/><circle cx="151.67" cy="276.03" r="2.5"/><circle cx="144.45" cy="284.98" r="2.5"/><circle cx="145.27" cy="285.77" r="2.5"/><circle cx="141.17" cy="285.5" r="2.5"/><circle cx="150.0" cy="291.86" r="2.5"/><circle cx="150.42" cy="273.12" r="2.5"/><circle cx="153.11" cy="270.46" r="2.5"/><circle cx="148.19" cy="260.0" r="2.5"/><circle cx="147.23" cy="282.48" r="2.5"/><circle cx="145.21" cy="271.03" r="2.5"/><circle cx="154.02" cy="279.56" r="2.5"/><circle cx="148.8" cy="303.17" r="2.5"/><circle cx="145.48" cy="296.34" r="2.5"/><circle cx="141.58" cy="284.67" r="2.5"/><circle cx="152.5" cy="293.03" r="2.5"/><circle cx="143.26" cy="285.21" r="2.5"/><circle cx="150.93" cy="285.42" r="2.5"/><circle cx="153.62" cy="284.26" r="2.5"/><circle cx="145.37" cy="289.98" r="2.5"/><circle cx="153.06" cy="280.44" r="2.5"/><circle cx="145.93" cy="302.91" r="2.5"/><circle cx="152.24" cy="274.6" r="2.5"/><circle cx="148.52" cy="285.68" r="2.5"/><circle cx="150.75" cy="308.51" r="2.5"/><circle cx="147.68" cy="298.32" r="2.5"/><circle cx="150.12" cy="260.65" r="2.5"/><circle cx="143.15" cy="301.18" r="2.5"/><circle cx="154.09" cy="295.89" r="2.5"/><circle cx="151.6" cy="305.37" r="2.5"/><circle cx="152.52" cy="267.8" r="2.5"/><circle cx="147.91" cy="277.05" r="2.5"/><circle cx="148.8" cy="290.62" r="2.5"/><circle cx="146.78" cy="270.38" r="2.5"/><circle cx="142.12" cy="291.36" r="2.5"/><circle cx="149.98" cy="294.51" r="2.5"/><circle cx="151.98" cy="285.57" r="2.5"/><circle cx="151.54" cy="288.82" r="2.5"/><circle cx="143.89" cy="304.81" r="2.5"/><circle cx="152.82" cy="280.74" r="2.5"/><circle cx="142.07" cy="291.97" r="2.5"/><circle cx="151.69" cy="309.95" r="2.5"/><circle cx="150.22" cy="291.3" r="2.5"/><circle cx="144.18" cy="282.46" r="2.5"/><circle cx="143.55" cy="291.82" r="2.5"/><circle cx="149.79" cy="300.85" r="2.5"/><circle cx="150.17" cy="290.7" r="2.5"/><circle cx="152.83" cy="306.71" r="2.5"/><circle cx="152.77" cy="289.0" r="2.5"/><circle cx="143.52" cy="286.7" r="2.5"/><circle cx="144.34" cy="256.83" r="2.5"/><circle cx="149.82" cy="285.39" r="2.5"/><circle cx="148.48" cy="284.85" r="2.5"/><circle cx="148.26" cy="304.07" r="2.5"/><circle cx="149.23" cy="286.54" r="2.5"/><circle cx="154.6" cy="294.59" r="2.5"/><circle cx="148.33" cy="282.03" r="2.5"/><circle cx="148.39" cy="267.47" r="2.5"/><circle cx="144.91" cy="284.83" r="2.5"/><circle cx="148.33" cy="273.67" r="2.5"/><circle cx="142.39" cy="286.11" r="2.5"/><circle cx="150.26" cy="281.59" r="2.5"/><circle cx="153.35" cy="266.91" r="2.5"/><circle cx="142.32" cy="299.94" r="2.5"/><circle cx="148.85" cy="291.2" r="2.5"/><circle cx="147.95" cy="270.33" r="2.5"/><circle cx="151.63" cy="271.23" r="2.5"/><circle cx="142.69" cy="259.52" r="2.5"/><circle cx="150.58" cy="286.16" r="2.5"/><circle cx="152.83" cy="292.37" r="2.5"/><circle cx="152.84" cy="287.61" r="2.5"/><circle cx="153.72" cy="286.72" r="2.5"/><circle cx="153.26" cy="277.45" r="2.5"/><circle cx="149.93" cy="281.97" r="2.5"/><circle cx="147.43" cy="287.44" r="2.5"/><circle cx="146.12" cy="287.46" r="2.5"/><circle cx="149.97" cy="287.04" r="2.5"/><circle cx="151.79" cy="267.13" r="2.5"/><circle cx="144.34" cy="267.22" r="2.5"/><circle cx="150.85" cy="297.8" r="2.5"/><circle cx="153.31" cy="278.0" r="2.5"/><circle cx="145.51" cy="274.43" r="2.5"/><circle cx="149.4" cy="288.93" r="2.5"/><circle cx="146.98" cy="269.09" r="2.5"/><circle cx="146.1" cy="302.41" r="2.5"/><circle cx="149.01" cy="283.84" r="2.5"/><circle cx="151.58" cy="273.75" r="2.5"/><circle cx="153.65" cy="266.42" r="2.5"/><circle cx="151.54" cy="293.15" r="2.5"/><circle cx="151.33" cy="290.97" r="2.5"/><circle cx="149.53" cy="286.99" r="2.5"/><circle cx="152.14" cy="279.96" r="2.5"/><circle cx="151.74" cy="290.0" r="2.5"/><circle cx="150.8" cy="294.89" r="2.5"/><circle cx="149.67" cy="264.82" r="2.5"/><circle cx="145.26" cy="291.61" r="2.5"/><circle cx="153.56" cy="270.47" r="2.5"/><circle cx="147.63" cy="276.79" r="2.5"/><circle cx="148.14" cy="295.38" r="2.5"/><circle cx="151.8" cy="297.32" r="2.5"/><circle cx="147.03" cy="282.57" r="2.5"/><circle cx="152.42" cy="272.84" r="2.5"/><circle cx="149.51" cy="284.67" r="2.5"/><circle cx="150.48" cy="262.43" r="2.5"/><circle cx="149.97" cy="269.56" r="2.5"/><circle cx="145.43" cy="290.1" r="2.5"/><circle cx="150.15" cy="300.15" r="2.5"/><circle cx="152.81" cy="288.18" r="2.5"/><circle cx="148.49" cy="277.06" r="2.5"/><circle cx="147.99" cy="274.79" r="2.5"/><circle cx="143.71" cy="287.33" r="2.5"/><circle cx="153.81" cy="273.57" r="2.5"/><circle cx="153.6" cy="289.78" r="2.5"/><circle cx="150.74" cy="274.7" r="2.5"/><circle cx="149.2" cy="297.32" r="2.5"/><circle cx="153.11" cy="271.94" r="2.5"/><circle cx="143.7" cy="286.98" r="2.5"/><circle cx="143.32" cy="297.03" r="2.5"/><circle cx="152.31" cy="289.03" r="2.5"/><circle cx="145.03" cy="284.23" r="2.5"/><circle cx="147.79" cy="284.58" r="2.5"/><circle cx="147.36" cy="285.16" r="2.5"/><circle cx="149.63" cy="264.89" r="2.5"/><circle cx="152.57" cy="303.81" r="2.5"/><circle cx="153.21" cy="300.56" r="2.5"/><circle cx="146.55" cy="292.74" r="2.5"/><circle cx="150.34" cy="286.6" r="2.5"/><circle cx="147.08" cy="278.41" r="2.5"/><circle cx="153.12" cy="282.41" r="2.5"/><circle cx="154.07" cy="288.9" r="2.5"/><circle cx="147.83" cy="282.96" r="2.5"/><circle cx="143.91" cy="288.12" r="2.5"/><circle cx="149.99" cy="268.3" r="2.5"/><circle cx="151.4" cy="293.32" r="2.5"/><circle cx="154.08" cy="293.54" r="2.5"/><circle cx="148.99" cy="300.36" r="2.5"/><circle cx="143.3" cy="304.67" r="2.5"/><circle cx="153.42" cy="278.33" r="2.5"/><circle cx="149.67" cy="296.99" r="2.5"/><circle cx="97.85" cy="280.83" r="2.5"/><circle cx="92.0" cy="277.72" r="2.5"/><circle cx="92.44" cy="306.85" r="2.5"/><circle cx="92.86" cy="273.36" r="2.5"/><circle cx="98.23" cy="301.87" r="2.5"/><circle cx="95.35" cy="289.99" r="2.5"/><circle cx="95.86" cy="281.95" r="2.5"/><circle cx="92.57" cy="288.27" r="2.5"/><circle cx="148.85" cy="302.58" r="2.5"/><circle cx="145.03" cy="288.09" r="2.5"/><circle cx="150.78" cy="268.84" r="2.5"/><circle cx="150.33" cy="276.91" r="2.5"/><circle cx="143.85" cy="288.95" r="2.5"/><circle cx="141.5" cy="296.36" r="2.5"/><circle cx="146.75" cy="287.88" r="2.5"/><circle cx="141.64" cy="285.27" r="2.5"/><circle cx="152.42" cy="285.45" r="2.5"/><circle cx="148.35" cy="279.77" r="2.5"/><circle cx="143.95" cy="277.41" r="2.5"/><circle cx="150.29" cy="278.18" r="2.5"/><circle cx="149.77" cy="295.6" r="2.5"/><circle cx="144.09" cy="274.84" r="2.5"/><circle cx="418.5" cy="276.77" r="2.5"/><circle cx="417.72" cy="284.23" r="2.5"/><circle cx="417.47" cy="284.57" r="2.5"/><circle cx="417.35" cy="286.91" r="2.5"/><circle cx="414.7" cy="285.54" r="2.5"/><circle cx="412.65" cy="279.85" r="2.5"/><circle cx="415.6" cy="275.49" r="2.5"/><circle cx="415.96" cy="273.71" r="2.5"/><circle cx="412.54" cy="277.3" r="2.5"/><circle cx="418.09" cy="269.1" r="2.5"/><circle cx="414.34" cy="285.49" r="2.5"/><circle cx="411.0" cy="280.46" r="2.5"/><circle cx="414.07" cy="271.2" r="2.5"/><circle cx="416.69" cy="275.54" r="2.5"/><circle cx="413.63" cy="290.07" r="2.5"/><circle cx="417.5" cy="282.97" r="2.5"/><circle cx="416.55" cy="288.09" r="2.5"/><circle cx="416.31" cy="275.5" r="2.5"/><circle cx="417.07" cy="282.57" r="2.5"/><circle cx="415.27" cy="284.17" r="2.5"/><circle cx="417.11" cy="281.62" r="2.5"/><circle cx="416.83" cy="279.17" r="2.5"/><circle cx="416.91" cy="291.28" r="2.5"/><circle cx="417.26" cy="271.52" r="2.5"/><circle cx="413.82" cy="285.07" r="2.5"/><circle cx="418.07" cy="286.7" r="2.5"/><circle cx="412.66" cy="298.24" r="2.5"/><circle cx="411.98" cy="279.98" r="2.5"/><circle cx="412.92" cy="287.25" r="2.5"/><circle cx="415.53" cy="270.61" r="2.5"/><circle cx="414.92" cy="280.84" r="2.5"/><circle cx="414.84" cy="289.56" r="2.5"/><circle cx="417.33" cy="274.47" r="2.5"/><circle cx="416.56" cy="282.23" r="2.5"/><circle cx="418.5" cy="279.65" r="2.5"/><circle cx="416.84" cy="280.51" r="2.5"/><circle cx="417.41" cy="280.04" r="2.5"/><circle cx="413.21" cy="276.56" r="2.5"/><circle cx="417.74" cy="275.57" r="2.5"/><circle cx="411.27" cy="282.22" r="2.5"/><circle cx="418.18" cy="275.85" r="2.5"/><circle cx="415.36" cy="285.96" r="2.5"/><circle cx="416.58" cy="273.29" r="2.5"/><circle cx="415.9" cy="276.02" r="2.5"/><circle cx="417.74" cy="290.66" r="2.5"/><circle cx="417.53" cy="277.24" r="2.5"/><circle cx="417.41" cy="281.19" r="2.5"/><circle cx="417.19" cy="271.22" r="2.5"/><circle cx="416.02" cy="285.13" r="2.5"/><circle cx="416.88" cy="276.81" r="2.5"/><circle cx="416.68" cy="288.56" r="2.5"/><circle cx="417.54" cy="285.38" r="2.5"/><circle cx="421.54" cy="286.35" r="2.5"/><circle cx="420.87" cy="286.47" r="2.5"/><circle cx="420.64" cy="277.07" r="2.5"/><circle cx="421.83" cy="282.34" r="2.5"/><circle cx="420.67" cy="281.01" r="2.5"/><circle cx="425.13" cy="271.19" r="2.5"/><circle cx="440.55" cy="296.77" r="2.5"/><circle cx="437.98" cy="277.03" r="2.5"/><circle cx="436.47" cy="274.86" r="2.5"/><circle cx="430.54" cy="279.18" r="2.5"/><circle cx="431.71" cy="287.53" r="2.5"/><circle cx="430.84" cy="288.62" r="2.5"/><circle cx="429.57" cy="275.51" r="2.5"/><circle cx="427.64" cy="275.81" r="2.5"/><circle cx="432.83" cy="270.83" r="2.5"/><circle cx="433.7" cy="279.56" r="2.5"/><circle cx="436.51" cy="283.68" r="2.5"/><circle cx="428.45" cy="266.38" r="2.5"/><circle cx="426.41" cy="286.74" r="2.5"/><circle cx="426.62" cy="265.6" r="2.5"/><circle cx="424.86" cy="266.13" r="2.5"/><circle cx="438.5" cy="279.04" r="2.5"/><circle cx="428.01" cy="273.96" r="2.5"/><circle cx="425.86" cy="288.73" r="2.5"/><circle cx="433.46" cy="271.65" r="2.5"/><circle cx="440.93" cy="273.11" r="2.5"/><circle cx="431.65" cy="283.7" r="2.5"/><circle cx="431.41" cy="286.73" r="2.5"/><circle cx="430.12" cy="275.59" r="2.5"/><circle cx="429.68" cy="278.18" r="2.5"/><circle cx="429.86" cy="280.43" r="2.5"/><circle cx="425.82" cy="269.7" r="2.5"/><circle cx="430.16" cy="276.23" r="2.5"/><circle cx="438.96" cy="267.5" r="2.5"/><circle cx="433.7" cy="276.07" r="2.5"/><circle cx="426.73" cy="285.98" r="2.5"/><circle cx="431.47" cy="271.54" r="2.5"/><circle cx="432.15" cy="298.29" r="2.5"/><circle cx="428.18" cy="275.15" r="2.5"/><circle cx="427.0" cy="281.35" r="2.5"/><circle cx="437.06" cy="284.77" r="2.5"/><circle cx="440.82" cy="263.64" r="2.5"/><circle cx="427.91" cy="300.53" r="2.5"/><circle cx="425.44" cy="280.82" r="2.5"/><circle cx="427.72" cy="265.9" r="2.5"/><circle cx="426.54" cy="281.95" r="2.5"/><circle cx="427.17" cy="293.39" r="2.5"/><circle cx="437.0" cy="272.18" r="2.5"/><circle cx="432.45" cy="280.69" r="2.5"/><circle cx="437.14" cy="278.66" r="2.5"/><circle cx="428.69" cy="275.37" r="2.5"/><circle cx="440.22" cy="283.44" r="2.5"/><circle cx="425.42" cy="277.07" r="2.5"/><circle cx="432.68" cy="285.42" r="2.5"/><circle cx="434.61" cy="272.79" r="2.5"/><circle cx="430.9" cy="275.55" r="2.5"/><circle cx="431.56" cy="270.39" r="2.5"/><circle cx="435.97" cy="281.91" r="2.5"/><circle cx="440.27" cy="275.29" r="2.5"/><circle cx="439.29" cy="284.93" r="2.5"/><circle cx="431.98" cy="273.33" r="2.5"/><circle cx="427.03" cy="270.76" r="2.5"/><circle cx="429.58" cy="273.18" r="2.5"/><circle cx="426.67" cy="291.45" r="2.5"/><circle cx="436.19" cy="275.97" r="2.5"/><circle cx="433.3" cy="271.16" r="2.5"/><circle cx="436.39" cy="262.53" r="2.5"/><circle cx="427.56" cy="278.73" r="2.5"/><circle cx="439.01" cy="284.67" r="2.5"/><circle cx="431.45" cy="281.58" r="2.5"/><circle cx="428.22" cy="279.07" r="2.5"/><circle cx="439.3" cy="276.65" r="2.5"/><circle cx="436.5" cy="285.49" r="2.5"/><circle cx="429.57" cy="276.61" r="2.5"/><circle cx="425.46" cy="278.7" r="2.5"/><circle cx="437.22" cy="277.51" r="2.5"/><circle cx="433.34" cy="286.73" r="2.5"/><circle cx="433.19" cy="277.34" r="2.5"/><circle cx="432.55" cy="274.09" r="2.5"/><circle cx="438.55" cy="268.49" r="2.5"/><circle cx="426.53" cy="269.63" r="2.5"/><circle cx="432.68" cy="284.1" r="2.5"/><circle cx="425.46" cy="264.9" r="2.5"/><circle cx="440.36" cy="279.7" r="2.5"/><circle cx="425.44" cy="273.17" r="2.5"/><circle cx="425.22" cy="282.25" r="2.5"/><circle cx="426.68" cy="269.31" r="2.5"/><circle cx="439.4" cy="278.71" r="2.5"/><circle cx="429.86" cy="281.23" r="2.5"/><circle cx="426.42" cy="287.34" r="2.5"/><circle cx="426.37" cy="275.99" r="2.5"/><circle cx="431.38" cy="273.64" r="2.5"/><circle cx="438.44" cy="278.99" r="2.5"/><circle cx="432.36" cy="274.06" r="2.5"/><circle cx="431.6" cy="273.56" r="2.5"/><circle cx="425.14" cy="277.35" r="2.5"/><circle cx="438.19" cy="276.88" r="2.5"/><circle cx="432.42" cy="277.63" r="2.5"/><circle cx="428.22" cy="291.86" r="2.5"/><circle cx="433.04" cy="285.71" r="2.5"/><circle cx="440.64" cy="285.66" r="2.5"/><circle cx="437.86" cy="274.24" r="2.5"/><circle cx="429.04" cy="278.91" r="2.5"/><circle cx="429.8" cy="280.11" r="2.5"/><circle cx="427.08" cy="280.75" r="2.5"/><circle cx="427.77" cy="286.9" r="2.5"/><circle cx="429.09" cy="265.62" r="2.5"/><circle cx="430.19" cy="269.16" r="2.5"/><circle cx="436.68" cy="281.13" r="2.5"/><circle cx="430.17" cy="281.76" r="2.5"/><circle cx="439.59" cy="274.89" r="2.5"/><circle cx="431.72" cy="276.84" r="2.5"/><circle cx="430.92" cy="287.83" r="2.5"/><circle cx="426.74" cy="283.0" r="2.5"/><circle cx="433.86" cy="268.4" r="2.5"/><circle cx="432.15" cy="286.12" r="2.5"/><circle cx="434.23" cy="281.11" r="2.5"/><circle cx="432.06" cy="281.05" r="2.5"/><circle cx="434.47" cy="279.37" r="2.5"/><circle cx="431.7" cy="267.9" r="2.5"/><circle cx="437.33" cy="282.83" r="2.5"/><circle cx="426.14" cy="272.1" r="2.5"/><circle cx="439.51" cy="286.58" r="2.5"/><circle cx="430.65" cy="284.73" r="2.5"/><circle cx="427.37" cy="292.52" r="2.5"/><circle cx="443.59" cy="297.74" r="2.5"/><circle cx="444.28" cy="279.11" r="2.5"/><circle cx="443.85" cy="285.82" r="2.5"/><circle cx="444.15" cy="288.27" r="2.5"/><circle cx="443.34" cy="276.54" r="2.5"/><circle cx="470.84" cy="282.23" r="2.5"/><circle cx="468.36" cy="283.78" r="2.5"/><circle cx="467.85" cy="273.96" r="2.5"/><circle cx="467.86" cy="271.77" r="2.5"/><circle cx="470.39" cy="282.67" r="2.5"/><circle cx="470.07" cy="283.47" r="2.5"/><circle cx="466.97" cy="287.26" r="2.5"/><circle cx="469.62" cy="284.16" r="2.5"/><circle cx="470.24" cy="286.1" r="2.5"/><circle cx="471.28" cy="274.26" r="2.5"/><circle cx="465.8" cy="281.83" r="2.5"/><circle cx="469.71" cy="266.21" r="2.5"/><circle cx="472.55" cy="277.51" r="2.5"/><circle cx="473.11" cy="288.58" r="2.5"/><circle cx="468.64" cy="279.94" r="2.5"/><circle cx="470.74" cy="285.55" r="2.5"/><circle cx="467.15" cy="286.68" r="2.5"/><circle cx="471.89" cy="278.86" r="2.5"/><circle cx="469.98" cy="285.02" r="2.5"/><circle cx="466.65" cy="289.34" r="2.5"/><circle cx="466.16" cy="278.38" r="2.5"/><circle cx="470.93" cy="272.64" r="2.5"/><circle cx="470.24" cy="272.32" r="2.5"/><circle cx="466.8" cy="283.55" r="2.5"/><circle cx="470.13" cy="269.28" r="2.5"/><circle cx="471.77" cy="273.95" r="2.5"/><circle cx="468.68" cy="289.09" r="2.5"/><circle cx="469.52" cy="288.26" r="2.5"/><circle cx="469.63" cy="284.6" r="2.5"/><circle cx="470.09" cy="278.56" r="2.5"/><circle cx="470.03" cy="283.53" r="2.5"/><circle cx="470.0" cy="267.27" r="2.5"/><circle cx="471.0" cy="287.61" r="2.5"/><circle cx="467.52" cy="286.73" r="2.5"/><circle cx="469.94" cy="277.9" r="2.5"/><circle cx="468.41" cy="287.82" r="2.5"/><circle cx="470.84" cy="290.03" r="2.5"/><circle cx="468.81" cy="284.08" r="2.5"/><circle cx="469.29" cy="276.28" r="2.5"/><circle cx="469.25" cy="283.4" r="2.5"/><circle cx="470.56" cy="280.24" r="2.5"/><circle cx="472.22" cy="275.44" r="2.5"/><circle cx="471.4" cy="277.23" r="2.5"/><circle cx="471.48" cy="273.24" r="2.5"/><circle cx="470.01" cy="282.14" r="2.5"/><circle cx="469.96" cy="274.01" r="2.5"/><circle cx="470.23" cy="276.99" r="2.5"/><circle cx="469.44" cy="273.48" r="2.5"/><circle cx="468.15" cy="287.33" r="2.5"/><circle cx="468.33" cy="276.12" r="2.5"/><circle cx="472.44" cy="272.79" r="2.5"/><circle cx="468.23" cy="286.02" r="2.5"/><circle cx="475.0" cy="287.01" r="2.5"/><circle cx="475.39" cy="281.29" r="2.5"/><circle cx="475.37" cy="295.75" r="2.5"/><circle cx="476.74" cy="285.88" r="2.5"/><circle cx="475.79" cy="280.23" r="2.5"/><circle cx="475.49" cy="298.36" r="2.5"/><circle cx="482.09" cy="288.78" r="2.5"/><circle cx="482.63" cy="294.88" r="2.5"/><circle cx="495.49" cy="284.58" r="2.5"/><circle cx="487.04" cy="276.08" r="2.5"/><circle cx="491.7" cy="280.58" r="2.5"/><circle cx="482.15" cy="285.14" r="2.5"/><circle cx="490.68" cy="279.06" r="2.5"/><circle cx="490.59" cy="279.76" r="2.5"/><circle cx="488.73" cy="279.55" r="2.5"/><circle cx="482.99" cy="263.37" r="2.5"/><circle cx="481.63" cy="288.32" r="2.5"/><circle cx="489.74" cy="283.36" r="2.5"/><circle cx="479.0" cy="280.53" r="2.5"/><circle cx="482.18" cy="297.14" r="2.5"/><circle cx="498.03" cy="260.54" r="2.5"/><circle cx="495.92" cy="266.12" r="2.5"/><circle cx="497.81" cy="267.7" r="2.5"/><circle cx="487.03" cy="287.88" r="2.5"/><circle cx="480.35" cy="281.88" r="2.5"/><circle cx="488.85" cy="280.82" r="2.5"/><circle cx="483.77" cy="281.87" r="2.5"/><circle cx="497.64" cy="278.64" r="2.5"/><circle cx="484.05" cy="268.36" r="2.5"/><circle cx="479.36" cy="285.86" r="2.5"/><circle cx="481.79" cy="279.3" r="2.5"/><circle cx="488.85" cy="268.83" r="2.5"/><circle cx="480.48" cy="281.61" r="2.5"/><circle cx="480.41" cy="289.01" r="2.5"/><circle cx="478.1" cy="286.02" r="2.5"/><circle cx="483.68" cy="279.61" r="2.5"/><circle cx="482.53" cy="275.65" r="2.5"/><circle cx="479.89" cy="274.88" r="2.5"/><circle cx="490.21" cy="283.63" r="2.5"/><circle cx="487.0" cy="269.86" r="2.5"/><circle cx="494.42" cy="276.1" r="2.5"/><circle cx="499.31" cy="282.6" r="2.5"/><circle cx="478.46" cy="290.98" r="2.5"/><circle cx="482.59" cy="277.22" r="2.5"/><circle cx="488.68" cy="273.64" r="2.5"/><circle cx="480.28" cy="281.32" r="2.5"/><circle cx="478.0" cy="284.61" r="2.5"/><circle cx="491.47" cy="279.48" r="2.5"/><circle cx="483.64" cy="277.62" r="2.5"/><circle cx="499.44" cy="280.58" r="2.5"/><circle cx="479.6" cy="276.3" r="2.5"/><circle cx="482.98" cy="287.37" r="2.5"/><circle cx="482.52" cy="281.89" r="2.5"/><circle cx="488.74" cy="281.6" r="2.5"/><circle cx="480.14" cy="288.19" r="2.5"/><circle cx="491.57" cy="272.59" r="2.5"/><circle cx="482.96" cy="267.22" r="2.5"/><circle cx="495.97" cy="271.05" r="2.5"/><circle cx="490.97" cy="279.39" r="2.5"/><circle cx="497.94" cy="298.39" r="2.5"/><circle cx="491.57" cy="273.49" r="2.5"/><circle cx="489.67" cy="284.53" r="2.5"/><circle cx="499.24" cy="284.25" r="2.5"/><circle cx="481.0" cy="279.03" r="2.5"/><circle cx="479.44" cy="283.03" r="2.5"/><circle cx="491.52" cy="274.95" r="2.5"/><circle cx="478.45" cy="272.41" r="2.5"/><circle cx="479.64" cy="272.17" r="2.5"/><circle cx="479.37" cy="282.33" r="2.5"/><circle cx="481.55" cy="287.79" r="2.5"/><circle cx="479.7" cy="280.94" r="2.5"/><circle cx="491.61" cy="288.24" r="2.5"/><circle cx="494.15" cy="289.28" r="2.5"/><circle cx="498.37" cy="278.08" r="2.5"/><circle cx="483.1" cy="276.59" r="2.5"/><circle cx="482.31" cy="274.05" r="2.5"/><circle cx="484.71" cy="281.86" r="2.5"/><circle cx="479.18" cy="280.99" r="2.5"/><circle cx="482.59" cy="283.04" r="2.5"/><circle cx="493.76" cy="281.67" r="2.5"/><circle cx="498.21" cy="284.75" r="2.5"/><circle cx="494.68" cy="281.79" r="2.5"/><circle cx="498.9" cy="268.82" r="2.5"/><circle cx="482.76" cy="288.72" r="2.5"/><circle cx="491.76" cy="276.67" r="2.5"/><circle cx="482.32" cy="285.27" r="2.5"/><circle cx="480.3" cy="266.1" r="2.5"/><circle cx="482.28" cy="272.75" r="2.5"/><circle cx="491.08" cy="273.68" r="2.5"/><circle cx="479.66" cy="288.63" r="2.5"/><circle cx="492.0" cy="284.11" r="2.5"/><circle cx="487.54" cy="274.13" r="2.5"/><circle cx="491.07" cy="277.16" r="2.5"/><circle cx="495.46" cy="283.0" r="2.5"/><circle cx="480.22" cy="279.29" r="2.5"/><circle cx="499.5" cy="284.87" r="2.5"/><circle cx="499.24" cy="277.3" r="2.5"/><circle cx="482.34" cy="283.28" r="2.5"/><circle cx="482.17" cy="282.35" r="2.5"/><circle cx="479.41" cy="286.06" r="2.5"/><circle cx="482.9" cy="268.38" r="2.5"/><circle cx="479.58" cy="280.22" r="2.5"/><circle cx="491.58" cy="275.44" r="2.5"/><circle cx="480.47" cy="281.23" r="2.5"/><circle cx="488.48" cy="278.01" r="2.5"/><circle cx="495.54" cy="291.04" r="2.5"/><circle cx="482.2" cy="276.8" r="2.5"/><circle cx="480.2" cy="297.37" r="2.5"/><circle cx="495.35" cy="267.18" r="2.5"/><circle cx="479.42" cy="279.56" r="2.5"/><circle cx="484.77" cy="278.25" r="2.5"/><circle cx="479.37" cy="293.8" r="2.5"/><circle cx="484.44" cy="264.86" r="2.5"/><circle cx="482.79" cy="287.24" r="2.5"/><circle cx="482.26" cy="280.99" r="2.5"/><circle cx="491.0" cy="274.35" r="2.5"/><circle cx="489.98" cy="275.9" r="2.5"/><circle cx="480.12" cy="274.34" r="2.5"/><circle cx="481.74" cy="284.99" r="2.5"/><circle cx="494.28" cy="277.63" r="2.5"/><circle cx="490.71" cy="288.29" r="2.5"/><circle cx="489.43" cy="271.39" r="2.5"/><circle cx="493.73" cy="275.39" r="2.5"/><circle cx="480.56" cy="279.84" r="2.5"/><circle cx="479.71" cy="277.66" r="2.5"/><circle cx="479.94" cy="278.32" r="2.5"/><circle cx="490.93" cy="280.09" r="2.5"/><circle cx="480.07" cy="267.01" r="2.5"/><circle cx="478.0" cy="289.34" r="2.5"/><circle cx="494.5" cy="285.79" r="2.5"/><circle cx="480.47" cy="282.98" r="2.5"/><circle cx="502.4" cy="276.46" r="2.5"/><circle cx="501.83" cy="287.69" r="2.5"/><circle cx="502.71" cy="289.13" r="2.5"/><circle cx="503.9" cy="278.5" r="2.5"/><circle cx="502.47" cy="296.1" r="2.5"/><circle cx="523.66" cy="276.37" r="2.5"/><circle cx="521.42" cy="272.36" r="2.5"/><circle cx="521.1" cy="285.4" r="2.5"/><circle cx="525.91" cy="283.49" r="2.5"/><circle cx="525.57" cy="278.63" r="2.5"/><circle cx="520.26" cy="284.33" r="2.5"/><circle cx="519.5" cy="298.18" r="2.5"/><circle cx="521.99" cy="272.28" r="2.5"/><circle cx="521.43" cy="287.1" r="2.5"/><circle cx="519.5" cy="282.88" r="2.5"/><circle cx="526.63" cy="283.95" r="2.5"/><circle cx="525.85" cy="298.14" r="2.5"/><circle cx="525.65" cy="276.3" r="2.5"/><circle cx="524.76" cy="284.91" r="2.5"/><circle cx="525.18" cy="292.2" r="2.5"/><circle cx="524.9" cy="271.4" r="2.5"/><circle cx="522.52" cy="270.39" r="2.5"/><circle cx="525.91" cy="270.98" r="2.5"/><circle cx="525.24" cy="287.51" r="2.5"/><circle cx="525.72" cy="278.68" r="2.5"/><circle cx="525.0" cy="274.35" r="2.5"/><circle cx="519.5" cy="292.92" r="2.5"/><circle cx="523.67" cy="289.05" r="2.5"/><circle cx="519.86" cy="290.34" r="2.5"/><circle cx="525.05" cy="273.27" r="2.5"/><circle cx="526.12" cy="293.6" r="2.5"/><circle cx="520.4" cy="290.41" r="2.5"/><circle cx="526.53" cy="280.39" r="2.5"/><circle cx="526.59" cy="284.44" r="2.5"/><circle cx="525.05" cy="287.16" r="2.5"/><circle cx="519.98" cy="290.51" r="2.5"/><circle cx="524.55" cy="272.31" r="2.5"/><circle cx="525.97" cy="286.54" r="2.5"/><circle cx="523.14" cy="275.02" r="2.5"/><circle cx="523.25" cy="289.11" r="2.5"/><circle cx="524.85" cy="279.36" r="2.5"/><circle cx="520.21" cy="267.16" r="2.5"/><circle cx="520.38" cy="291.11" r="2.5"/><circle cx="521.58" cy="269.32" r="2.5"/><circle cx="523.53" cy="287.84" r="2.5"/><circle cx="526.54" cy="281.24" r="2.5"/><circle cx="525.41" cy="279.65" r="2.5"/><circle cx="526.13" cy="279.68" r="2.5"/><circle cx="519.97" cy="278.08" r="2.5"/><circle cx="520.18" cy="287.0" r="2.5"/><circle cx="525.56" cy="277.21" r="2.5"/><circle cx="523.14" cy="277.73" r="2.5"/><circle cx="525.23" cy="285.0" r="2.5"/><circle cx="525.45" cy="292.98" r="2.5"/><circle cx="520.15" cy="289.25" r="2.5"/><circle cx="527.59" cy="287.93" r="2.5"/><circle cx="527.68" cy="286.72" r="2.5"/><circle cx="527.81" cy="283.37" r="2.5"/><circle cx="527.64" cy="283.04" r="2.5"/><circle cx="528.92" cy="284.01" r="2.5"/><circle cx="532.15" cy="307.7" r="2.5"/><circle cx="535.75" cy="286.37" r="2.5"/><circle cx="535.35" cy="275.08" r="2.5"/><circle cx="532.43" cy="288.06" r="2.5"/><circle cx="548.46" cy="277.5" r="2.5"/><circle cx="545.06" cy="276.85" r="2.5"/><circle cx="533.61" cy="275.9" r="2.5"/><circle cx="544.41" cy="290.43" r="2.5"/><circle cx="535.58" cy="265.1" r="2.5"/><circle cx="535.76" cy="287.97" r="2.5"/><circle cx="548.51" cy="296.42" r="2.5"/><circle cx="547.28" cy="289.43" r="2.5"/><circle cx="533.27" cy="272.8" r="2.5"/><circle cx="536.49" cy="277.46" r="2.5"/><circle cx="530.98" cy="275.52" r="2.5"/><circle cx="534.08" cy="286.34" r="2.5"/><circle cx="549.04" cy="267.56" r="2.5"/><circle cx="544.73" cy="272.07" r="2.5"/><circle cx="544.87" cy="269.65" r="2.5"/><circle cx="535.48" cy="272.16" r="2.5"/><circle cx="535.48" cy="296.66" r="2.5"/><circle cx="530.72" cy="285.63" r="2.5"/><circle cx="547.99" cy="281.72" r="2.5"/><circle cx="549.33" cy="283.23" r="2.5"/><circle cx="531.14" cy="285.97" r="2.5"/><circle cx="530.31" cy="286.16" r="2.5"/><circle cx="549.0" cy="293.87" r="2.5"/><circle cx="538.88" cy="270.27" r="2.5"/><circle cx="532.09" cy="286.2" r="2.5"/><circle cx="544.58" cy="276.27" r="2.5"/><circle cx="531.93" cy="277.34" r="2.5"/><circle cx="532.26" cy="282.57" r="2.5"/><circle cx="546.24" cy="271.02" r="2.5"/><circle cx="541.14" cy="286.16" r="2.5"/><circle cx="544.47" cy="281.77" r="2.5"/><circle cx="536.99" cy="275.42" r="2.5"/><circle cx="540.65" cy="283.25" r="2.5"/><circle cx="534.88" cy="295.5" r="2.5"/><circle cx="535.64" cy="284.9" r="2.5"/><circle cx="536.71" cy="282.92" r="2.5"/><circle cx="542.23" cy="291.68" r="2.5"/><circle cx="540.0" cy="275.06" r="2.5"/><circle cx="546.82" cy="279.91" r="2.5"/><circle cx="539.13" cy="269.21" r="2.5"/><circle cx="539.04" cy="275.95" r="2.5"/><circle cx="535.6" cy="284.43" r="2.5"/><circle cx="532.38" cy="288.56" r="2.5"/><circle cx="549.8" cy="266.55" r="2.5"/><circle cx="548.24" cy="274.08" r="2.5"/><circle cx="535.4" cy="286.21" r="2.5"/><circle cx="544.78" cy="268.89" r="2.5"/><circle cx="534.99" cy="294.25" r="2.5"/><circle cx="534.25" cy="275.69" r="2.5"/><circle cx="531.32" cy="272.26" r="2.5"/><circle cx="543.06" cy="274.34" r="2.5"/><circle cx="530.47" cy="278.48" r="2.5"/><circle cx="540.61" cy="284.55" r="2.5"/><circle cx="538.99" cy="286.4" r="2.5"/><circle cx="535.27" cy="282.53" r="2.5"/><circle cx="530.15" cy="274.26" r="2.5"/><circle cx="534.93" cy="266.01" r="2.5"/><circle cx="544.81" cy="272.95" r="2.5"/><circle cx="531.34" cy="286.2" r="2.5"/><circle cx="532.68" cy="278.52" r="2.5"/><circle cx="539.58" cy="281.81" r="2.5"/><circle cx="540.33" cy="271.18" r="2.5"/><circle cx="545.25" cy="274.48" r="2.5"/><circle cx="539.11" cy="276.72" r="2.5"/><circle cx="538.68" cy="276.56" r="2.5"/><circle cx="532.3" cy="289.0" r="2.5"/><circle cx="539.0" cy="280.75" r="2.5"/><circle cx="539.58" cy="266.69" r="2.5"/><circle cx="532.88" cy="292.77" r="2.5"/><circle cx="543.05" cy="273.91" r="2.5"/><circle cx="533.85" cy="284.24" r="2.5"/><circle cx="535.58" cy="284.21" r="2.5"/><circle cx="535.45" cy="274.99" r="2.5"/><circle cx="548.06" cy="278.58" r="2.5"/><circle cx="535.55" cy="271.62" r="2.5"/><circle cx="539.3" cy="278.8" r="2.5"/><circle cx="541.82" cy="282.0" r="2.5"/><circle cx="533.08" cy="269.95" r="2.5"/><circle cx="535.66" cy="274.38" r="2.5"/><circle cx="534.65" cy="264.39" r="2.5"/><circle cx="538.99" cy="283.29" r="2.5"/><circle cx="544.79" cy="280.03" r="2.5"/><circle cx="539.37" cy="288.4" r="2.5"/><circle cx="540.32" cy="275.3" r="2.5"/><circle cx="535.14" cy="278.45" r="2.5"/><circle cx="532.26" cy="288.42" r="2.5"/><circle cx="543.19" cy="268.29" r="2.5"/><circle cx="544.76" cy="275.41" r="2.5"/><circle cx="546.87" cy="292.96" r="2.5"/><circle cx="542.23" cy="286.92" r="2.5"/><circle cx="541.8" cy="288.89" r="2.5"/><circle cx="548.12" cy="283.66" r="2.5"/><circle cx="532.97" cy="270.95" r="2.5"/><circle cx="533.24" cy="279.01" r="2.5"/><circle cx="532.35" cy="285.65" r="2.5"/><circle cx="544.38" cy="275.51" r="2.5"/><circle cx="531.48" cy="287.03" r="2.5"/><circle cx="549.28" cy="282.64" r="2.5"/><circle cx="539.65" cy="283.49" r="2.5"/><circle cx="539.99" cy="287.48" r="2.5"/><circle cx="546.71" cy="281.77" r="2.5"/><circle cx="543.16" cy="277.27" r="2.5"/><circle cx="535.43" cy="287.41" r="2.5"/><circle cx="535.45" cy="289.09" r="2.5"/><circle cx="538.53" cy="276.83" r="2.5"/><circle cx="542.1" cy="281.39" r="2.5"/><circle cx="532.68" cy="286.21" r="2.5"/><circle cx="548.43" cy="271.65" r="2.5"/><circle cx="532.5" cy="283.58" r="2.5"/><circle cx="532.83" cy="268.88" r="2.5"/><circle cx="536.75" cy="302.05" r="2.5"/><circle cx="543.08" cy="287.57" r="2.5"/><circle cx="537.08" cy="280.36" r="2.5"/><circle cx="533.09" cy="268.1" r="2.5"/><circle cx="539.84" cy="290.07" r="2.5"/><circle cx="532.55" cy="277.13" r="2.5"/><circle cx="540.65" cy="299.34" r="2.5"/><circle cx="535.48" cy="295.8" r="2.5"/><circle cx="546.51" cy="283.91" r="2.5"/><circle cx="549.44" cy="279.06" r="2.5"/><circle cx="533.01" cy="284.14" r="2.5"/><circle cx="553.6" cy="290.49" r="2.5"/><circle cx="556.68" cy="286.62" r="2.5"/><circle cx="557.0" cy="278.54" r="2.5"/><circle cx="556.09" cy="287.14" r="2.5"/><circle cx="555.91" cy="291.25" r="2.5"/><circle cx="556.12" cy="268.6" r="2.5"/><circle cx="556.17" cy="279.03" r="2.5"/><circle cx="168.6" cy="295.3" r="2.5"/><circle cx="168.6" cy="300.0" r="2.5"/><circle cx="385.8" cy="286.7" r="2.5"/><circle cx="92.0" cy="270" r="2.5"/><circle cx="98.0" cy="268" r="2.5"/><circle cx="92.5" cy="266" r="2.5"/><circle cx="99.2" cy="272" r="2.5"/><circle cx="102.0" cy="280" r="2.5"/><circle cx="100.3" cy="306" r="2.5"/><circle cx="97.0" cy="300" r="2.5"/><circle cx="93.5" cy="303" r="2.5"/><circle cx="143.2" cy="258" r="2.5"/><circle cx="147.8" cy="262" r="2.5"/><circle cx="151.5" cy="264" r="2.5"/><circle cx="155.0" cy="268" r="2.5"/><circle cx="148.0" cy="312" r="2.5"/><circle cx="144.5" cy="306" r="2.5"/><circle cx="152.5" cy="304" r="2.5"/><circle cx="448.5" cy="252" r="2.5"/><circle cx="444.4" cy="259.5" r="2.5"/><circle cx="446.5" cy="271" r="2.5"/><circle cx="450.5" cy="293" r="2.5"/><circle cx="443.7" cy="310.8" r="2.5"/><circle cx="413.85" cy="262" r="2.5"/><circle cx="429.3" cy="262" r="2.5"/><circle cx="434.1" cy="263" r="2.5"/><circle cx="439.6" cy="264" r="2.5"/><circle cx="426.6" cy="267" r="2.5"/><circle cx="413.6" cy="300" r="2.5"/><circle cx="418.0" cy="299" r="2.5"/><circle cx="423.2" cy="301" r="2.5"/><circle cx="432.0" cy="302" r="2.5"/><circle cx="427.3" cy="299" r="2.5"/><circle cx="471.7" cy="247.4" r="2.5"/><circle cx="471.7" cy="262" r="2.5"/><circle cx="497.7" cy="262" r="2.5"/><circle cx="504.8" cy="266.5" r="2.5"/><circle cx="503.5" cy="286.6" r="2.5"/><circle cx="466.2" cy="268" r="2.5"/><circle cx="478.5" cy="270" r="2.5"/><circle cx="486.0" cy="272" r="2.5"/><circle cx="490.8" cy="270" r="2.5"/><circle cx="495.0" cy="268" r="2.5"/><circle cx="499.7" cy="268" r="2.5"/><circle cx="464.8" cy="265" r="2.5"/><circle cx="469.0" cy="290" r="2.5"/><circle cx="475.8" cy="307.4" r="2.5"/><circle cx="486.0" cy="309" r="2.5"/><circle cx="484.5" cy="306" r="2.5"/><circle cx="495.0" cy="303" r="2.5"/><circle cx="503.1" cy="293" r="2.5"/><circle cx="487.5" cy="298" r="2.5"/><circle cx="485.0" cy="296" r="2.5"/><circle cx="488.5" cy="300" r="2.5"/><circle cx="540.0" cy="262" r="2.5"/><circle cx="543.2" cy="264" r="2.5"/><circle cx="548.7" cy="254.7" r="2.5"/><circle cx="555.8" cy="270" r="2.5"/><circle cx="554.5" cy="277" r="2.5"/><circle cx="558.5" cy="278" r="2.5"/><circle cx="520.5" cy="265" r="2.5"/><circle cx="524.0" cy="266" r="2.5"/><circle cx="525.7" cy="270" r="2.5"/><circle cx="532.5" cy="272" r="2.5"/><circle cx="544.8" cy="268" r="2.5"/><circle cx="518.5" cy="270" r="2.5"/><circle cx="519.5" cy="294" r="2.5"/><circle cx="546.8" cy="325.4" r="2.5"/><circle cx="546.8" cy="307.4" r="2.5"/><circle cx="533.1" cy="320" r="2.5"/><circle cx="529.2" cy="314" r="2.5"/><circle cx="556.0" cy="309.4" r="2.5"/><circle cx="556.5" cy="290.8" r="2.5"/><circle cx="543.0" cy="312" r="2.5"/><circle cx="574.6" cy="266.5" r="2.5"/><circle cx="573.9" cy="247.3" r="2.5"/><circle cx="574.9" cy="238.8" r="2.5"/><circle cx="575.9" cy="231.8" r="2.5"/><circle cx="577.7" cy="222.6" r="2.5"/><circle cx="575.9" cy="214.0" r="2.5"/><circle cx="577.2" cy="207.5" r="2.5"/><circle cx="577.0" cy="195.2" r="2.5"/><circle cx="580.0" cy="197.0" r="2.5"/><circle cx="577.5" cy="185.3" r="2.5"/><circle cx="578.5" cy="161.0" r="2.5"/><circle cx="578.8" cy="162.5" r="2.5"/><circle cx="580.0" cy="161.0" r="2.5"/><circle cx="581.9" cy="161.5" r="2.5"/><circle cx="580.0" cy="158.5" r="2.5"/><circle cx="580.6" cy="159.5" r="2.5"/><circle cx="581.2" cy="159.0" r="2.5"/><circle cx="580.4" cy="158.5" r="2.5"/><circle cx="580.9" cy="157.8" r="2.5"/><circle cx="582.5" cy="175.0" r="2.5"/><circle cx="582.7" cy="179.0" r="2.5"/><circle cx="583.0" cy="195.5" r="2.5"/><circle cx="583.8" cy="222.6" r="2.5"/><circle cx="583.8" cy="244.0" r="2.5"/></g>
<path id="mc" d="M87.50 282.25L538.00 282.20L538.50 282.20L539.00 282.20L539.50 282.19L540.00 282.19L540.50 282.19L541.00 282.19L541.50 282.18L542.00 282.18L542.50 282.18L543.00 282.17L543.50 282.17L544.00 282.16L544.50 282.16L545.00 282.15L545.50 282.15L546.00 282.14L546.50 282.14L547.00 282.13L547.50 282.12L548.00 282.11L548.50 282.11L549.00 282.10L549.50 282.09L550.00 282.08L550.50 282.07L551.00 282.05L551.50 282.04L552.00 282.03L552.50 282.01L553.00 281.99L553.50 281.98L554.00 281.96L554.50 281.93L555.00 281.91L555.10 281.90L555.20 281.90L555.30 281.89L555.40 281.89L555.50 281.88L555.60 281.88L555.70 281.87L555.80 281.87L555.90 281.86L556.00 281.86L556.10 281.85L556.20 281.84L556.30 281.84L556.40 281.83L556.50 281.82L556.60 281.82L556.70 281.81L556.80 281.80L556.90 281.80L557.00 281.79L557.10 281.78L557.20 281.77L557.30 281.77L557.40 281.76L557.50 281.75L557.60 281.74L557.70 281.73L557.80 281.73L557.90 281.72L558.00 281.71L558.10 281.70L558.20 281.69L558.30 281.68L558.40 281.67L558.50 281.66L558.60 281.65L558.70 281.64L558.80 281.63L558.90 281.62L559.00 281.61L559.10 281.60L559.20 281.59L559.30 281.58L559.40 281.57L559.50 281.55L559.60 281.54L559.70 281.53L559.80 281.52L559.90 281.50L560.00 281.49L560.10 281.48L560.20 281.46L560.30 281.45L560.40 281.43L560.50 281.42L560.60 281.40L560.70 281.39L560.80 281.37L560.90 281.36L561.00 281.34L561.10 281.32L561.20 281.31L561.30 281.29L561.40 281.27L561.50 281.25L561.60 281.23L561.70 281.21L561.80 281.19L561.90 281.17L562.00 281.15L562.10 281.13L562.20 281.11L562.30 281.09L562.40 281.06L562.50 281.04L562.60 281.02L562.70 280.99L562.80 280.97L562.90 280.94L563.00 280.92L563.10 280.89L563.20 280.86L563.30 280.83L563.40 280.80L563.50 280.77L563.60 280.74L563.70 280.71L563.80 280.68L563.90 280.65L564.00 280.61L564.10 280.58L564.20 280.54L564.30 280.51L564.40 280.47L564.50 280.43L564.60 280.39L564.70 280.35L564.80 280.31L564.90 280.27L565.00 280.22L565.10 280.18L565.20 280.13L565.30 280.08L565.40 280.04L565.50 279.99L565.60 279.93L565.70 279.88L565.80 279.83L565.90 279.77L566.00 279.71L566.10 279.66L566.20 279.60L566.30 279.53L566.40 279.47L566.50 279.40L566.60 279.34L566.70 279.27L566.80 279.19L566.90 279.12L567.00 279.05L567.10 278.97L567.20 278.89L567.30 278.80L567.40 278.72L567.50 278.63L567.60 278.54L567.70 278.45L567.80 278.35L567.90 278.25L568.00 278.15L568.10 278.05L568.20 277.94L568.30 277.83L568.40 277.71L568.50 277.60L568.60 277.47L568.70 277.35L568.80 277.22L568.90 277.09L569.00 276.95L569.10 276.81L569.20 276.66L569.30 276.51L569.40 276.35L569.50 276.19L569.60 276.02L569.70 275.85L569.80 275.67L569.90 275.49L570.00 275.30L570.10 275.11L570.20 274.90L570.30 274.70L570.40 274.48L570.50 274.26L570.60 274.03L570.70 273.79L570.80 273.54L570.90 273.29L571.00 273.02L571.10 272.75L571.20 272.47L571.30 272.18L571.40 271.88L571.50 271.57L571.60 271.24L571.70 270.91L571.80 270.57L571.90 270.21L572.00 269.84L572.10 269.46L572.20 269.06L572.30 268.65L572.40 268.22L572.50 267.78L572.60 267.33L572.70 266.86L572.80 266.37L572.90 265.86L573.00 265.34L573.10 264.80L573.20 264.23L573.30 263.65L573.40 263.05L573.50 262.42L573.60 261.77L573.70 261.10L573.80 260.41L573.90 259.69L574.00 258.94L574.10 258.17L574.20 257.37L574.30 256.54L574.40 255.69L574.50 254.80L574.60 253.88L574.70 252.93L574.80 251.94L574.90 250.92L575.00 249.87L575.10 248.77L575.20 247.64L575.30 246.47L575.40 245.27L575.50 244.02L575.60 242.73L575.70 241.39L575.80 240.02L575.90 238.59L576.00 237.13L576.10 235.61L576.20 234.05L576.30 232.45L576.40 230.79L576.50 229.09L576.60 227.33L576.70 225.53L576.80 223.68L576.90 221.79L577.00 219.84L577.10 217.85L577.20 215.81L577.30 213.72L577.40 211.60L577.50 209.43L577.60 207.22L577.70 204.98L577.80 202.70L577.90 200.40L578.00 198.07L578.10 195.73L578.20 193.37L578.30 191.00L578.40 188.63L578.50 186.27L578.60 183.93L578.70 181.61L578.80 179.32L578.90 177.07L579.00 174.88L579.10 172.76L579.20 170.71L579.30 168.74L579.40 166.88L579.50 165.13L579.60 163.51L579.70 162.01L579.80 160.67L579.90 159.48L580.00 158.46L580.10 157.61L580.20 156.94L580.30 156.46L580.40 156.17L580.50 156.07L580.60 156.17L580.70 156.46L580.80 156.94L580.90 157.61L581.00 158.46L581.10 159.48L581.20 160.67L581.30 162.01L581.40 163.51L581.50 165.13L581.60 166.88L581.70 168.74L581.80 170.71L581.90 172.76L582.00 174.88L582.10 177.07L582.20 179.32L582.30 181.61L582.40 183.93L582.50 186.27L582.60 188.63L582.70 191.00L582.80 193.37L582.90 195.73L583.00 198.07L583.10 200.40L583.20 202.70L583.30 204.98L583.40 207.22L583.50 209.43L583.60 211.60L583.70 213.72L583.80 215.81L583.90 217.85L584.00 219.84L584.10 221.79L584.20 223.68L584.30 225.53L584.40 227.33L584.50 229.09L584.60 230.79L584.70 232.45L584.80 234.05L584.90 235.61L585.00 237.13L585.10 238.59L585.20 240.02L585.30 241.39L585.40 242.73L585.50 244.02L585.60 245.27L585.70 246.47L585.80 247.64L585.90 248.77L586.00 249.87L586.10 250.92L586.20 251.94L586.30 252.93L586.40 253.88L586.50 254.80L586.60 255.69L586.70 256.54L586.80 257.37L586.90 258.17L587.00 258.94L587.10 259.69L587.20 260.41L587.30 261.10L587.40 261.77L587.50 262.42" stroke="#ff8fff" stroke-width="1.5" stroke-linejoin="round" fill="none" style="mix-blend-mode:multiply"/>
<path d="M87.50 282.25L538.00 282.20L538.50 282.20L539.00 282.20L539.50 282.19L540.00 282.19L540.50 282.19L541.00 282.19L541.50 282.18L542.00 282.18L542.50 282.18L543.00 282.17L543.50 282.17L544.00 282.16L544.50 282.16L545.00 282.15L545.50 282.15L546.00 282.14L546.50 282.14L547.00 282.13L547.50 282.12L548.00 282.11L548.50 282.11L549.00 282.10L549.50 282.09L550.00 282.08L550.50 282.07L551.00 282.05L551.50 282.04L552.00 282.03L552.50 282.01L553.00 281.99L553.50 281.98L554.00 281.96L554.50 281.93L555.00 281.91L555.10 281.90L555.20 281.90L555.30 281.89L555.40 281.89L555.50 281.88L555.60 281.88L555.70 281.87L555.80 281.87L555.90 281.86L556.00 281.86L556.10 281.85L556.20 281.84L556.30 281.84L556.40 281.83L556.50 281.82L556.60 281.82L556.70 281.81L556.80 281.80L556.90 281.80L557.00 281.79L557.10 281.78L557.20 281.77L557.30 281.77L557.40 281.76L557.50 281.75L557.60 281.74L557.70 281.73L557.80 281.73L557.90 281.72L558.00 281.71L558.10 281.70L558.20 281.69L558.30 281.68L558.40 281.67L558.50 281.66L558.60 281.65L558.70 281.64L558.80 281.63L558.90 281.62L559.00 281.61L559.10 281.60L559.20 281.59L559.30 281.58L559.40 281.57L559.50 281.55L559.60 281.54L559.70 281.53L559.80 281.52L559.90 281.50L560.00 281.49L560.10 281.48L560.20 281.46L560.30 281.45L560.40 281.43L560.50 281.42L560.60 281.40L560.70 281.39L560.80 281.37L560.90 281.36L561.00 281.34L561.10 281.32L561.20 281.31L561.30 281.29L561.40 281.27L561.50 281.25L561.60 281.23L561.70 281.21L561.80 281.19L561.90 281.17L562.00 281.15L562.10 281.13L562.20 281.11L562.30 281.09L562.40 281.06L562.50 281.04L562.60 281.02L562.70 280.99L562.80 280.97L562.90 280.94L563.00 280.92L563.10 280.89L563.20 280.86L563.30 280.83L563.40 280.80L563.50 280.77L563.60 280.74L563.70 280.71L563.80 280.68L563.90 280.65L564.00 280.61L564.10 280.58L564.20 280.54L564.30 280.51L564.40 280.47L564.50 280.43L564.60 280.39L564.70 280.35L564.80 280.31L564.90 280.27L565.00 280.22L565.10 280.18L565.20 280.13L565.30 280.08L565.40 280.04L565.50 279.99L565.60 279.93L565.70 279.88L565.80 279.83L565.90 279.77L566.00 279.71L566.10 279.66L566.20 279.60L566.30 279.53L566.40 279.47L566.50 279.40L566.60 279.34L566.70 279.27L566.80 279.19L566.90 279.12L567.00 279.05L567.10 278.97L567.20 278.89L567.30 278.80L567.40 278.72L567.50 278.63L567.60 278.54L567.70 278.45L567.80 278.35L567.90 278.25L568.00 278.15L568.10 278.05L568.20 277.94L568.30 277.83L568.40 277.71L568.50 277.60L568.60 277.47L568.70 277.35L568.80 277.22L568.90 277.09L569.00 276.95L569.10 276.81L569.20 276.66L569.30 276.51L569.40 276.35L569.50 276.19L569.60 276.02L569.70 275.85L569.80 275.67L569.90 275.49L570.00 275.30L570.10 275.11L570.20 274.90L570.30 274.70L570.40 274.48L570.50 274.26L570.60 274.03L570.70 273.79L570.80 273.54L570.90 273.29L571.00 273.02L571.10 272.75L571.20 272.47L571.30 272.18L571.40 271.88L571.50 271.57L571.60 271.24L571.70 270.91L571.80 270.57L571.90 270.21L572.00 269.84L572.10 269.46L572.20 269.06L572.30 268.65L572.40 268.22L572.50 267.78L572.60 267.33L572.70 266.86L572.80 266.37L572.90 265.86L573.00 265.34L573.10 264.80L573.20 264.23L573.30 263.65L573.40 263.05L573.50 262.42L573.60 261.77L573.70 261.10L573.80 260.41L573.90 259.69L574.00 258.94L574.10 258.17L574.20 257.37L574.30 256.54L574.40 255.69L574.50 254.80L574.60 253.88L574.70 252.93L574.80 251.94L574.90 250.92L575.00 249.87L575.10 248.77L575.20 247.64L575.30 246.47L575.40 245.27L575.50 244.02L575.60 242.73L575.70 241.39L575.80 240.02L575.90 238.59L576.00 237.13L576.10 235.61L576.20 234.05L576.30 232.45L576.40 230.79L576.50 229.09L576.60 227.33L576.70 225.53L576.80 223.68L576.90 221.79L577.00 219.84L577.10 217.85L577.20 215.81L577.30 213.72L577.40 211.60L577.50 209.43L577.60 207.22L577.70 204.98L577.80 202.70L577.90 200.40L578.00 198.07L578.10 195.73L578.20 193.37L578.30 191.00L578.40 188.63L578.50 186.27L578.60 183.93L578.70 181.61L578.80 179.32L578.90 177.07L579.00 174.88L579.10 172.76L579.20 170.71L579.30 168.74L579.40 166.88L579.50 165.13L579.60 163.51L579.70 162.01L579.80 160.67L579.90 159.48L580.00 158.46L580.10 157.61L580.20 156.94L580.30 156.46L580.40 156.17L580.50 156.07L580.60 156.17L580.70 156.46L580.80 156.94L580.90 157.61L581.00 158.46L581.10 159.48L581.20 160.67L581.30 162.01L581.40 163.51L581.50 165.13L581.60 166.88L581.70 168.74L581.80 170.71L581.90 172.76L582.00 174.88L582.10 177.07L582.20 179.32L582.30 181.61L582.40 183.93L582.50 186.27L582.60 188.63L582.70 191.00L582.80 193.37L582.90 195.73L583.00 198.07L583.10 200.40L583.20 202.70L583.30 204.98L583.40 207.22L583.50 209.43L583.60 211.60L583.70 213.72L583.80 215.81L583.90 217.85L584.00 219.84L584.10 221.79L584.20 223.68L584.30 225.53L584.40 227.33L584.50 229.09L584.60 230.79L584.70 232.45L584.80 234.05L584.90 235.61L585.00 237.13L585.10 238.59L585.20 240.02L585.30 241.39L585.40 242.73L585.50 244.02L585.60 245.27L585.70 246.47L585.80 247.64L585.90 248.77L586.00 249.87L586.10 250.92L586.20 251.94L586.30 252.93L586.40 253.88L586.50 254.80L586.60 255.69L586.70 256.54L586.80 257.37L586.90 258.17L587.00 258.94L587.10 259.69L587.20 260.41L587.30 261.10L587.40 261.77L587.50 262.42" stroke="#f0f" stroke-opacity="0.51" stroke-width="1.5" stroke-linejoin="round" fill="none"/>
<path d="M572.00 269.84L572.10 269.46L572.20 269.06L572.30 268.65L572.40 268.22L572.50 267.78L572.60 267.33L572.70 266.86L572.80 266.37L572.90 265.86L573.00 265.34L573.10 264.80L573.20 264.23L573.30 263.65L573.40 263.05L573.50 262.42L573.60 261.77L573.70 261.10L573.80 260.41L573.90 259.69L574.00 258.94L574.10 258.17L574.20 257.37L574.30 256.54L574.40 255.69L574.50 254.80L574.60 253.88L574.70 252.93L574.80 251.94L574.90 250.92L575.00 249.87L575.10 248.77L575.20 247.64L575.30 246.47L575.40 245.27L575.50 244.02L575.60 242.73L575.70 241.39L575.80 240.02L575.90 238.59L576.00 237.13L576.10 235.61L576.20 234.05L576.30 232.45L576.40 230.79L576.50 229.09L576.60 227.33L576.70 225.53L576.80 223.68L576.90 221.79L577.00 219.84L577.10 217.85L577.20 215.81L577.30 213.72L577.40 211.60L577.50 209.43L577.60 207.22L577.70 204.98L577.80 202.70L577.90 200.40L578.00 198.07L578.10 195.73L578.20 193.37L578.30 191.00L578.40 188.63L578.50 186.27L578.60 183.93L578.70 181.61L578.80 179.32L578.90 177.07L579.00 174.88L579.10 172.76L579.20 170.71L579.30 168.74L579.40 166.88L579.50 165.13L579.60 163.51L579.70 162.01L579.80 160.67L579.90 159.48L580.00 158.46L580.10 157.61L580.20 156.94L580.30 156.46L580.40 156.17L580.50 156.07L580.60 156.17L580.70 156.46L580.80 156.94L580.90 157.61L581.00 158.46L581.10 159.48L581.20 160.67L581.30 162.01L581.40 163.51L581.50 165.13L581.60 166.88L581.70 168.74L581.80 170.71L581.90 172.76L582.00 174.88L582.10 177.07L582.20 179.32L582.30 181.61L582.40 183.93L582.50 186.27L582.60 188.63L582.70 191.00L582.80 193.37L582.90 195.73L583.00 198.07L583.10 200.40L583.20 202.70L583.30 204.98L583.40 207.22L583.50 209.43L583.60 211.60L583.70 213.72L583.80 215.81L583.90 217.85L584.00 219.84L584.10 221.79L584.20 223.68L584.30 225.53L584.40 227.33L584.50 229.09L584.60 230.79L584.70 232.45L584.80 234.05L584.90 235.61L585.00 237.13L585.10 238.59L585.20 240.02L585.30 241.39L585.40 242.73L585.50 244.02L585.60 245.27L585.70 246.47L585.80 247.64L585.90 248.77L586.00 249.87L586.10 250.92L586.20 251.94L586.30 252.93L586.40 253.88L586.50 254.80L586.60 255.69L586.70 256.54L586.80 257.37L586.90 258.17L587.00 258.94L587.10 259.69L587.20 260.41L587.30 261.10L587.40 261.77L587.50 262.42" stroke="#f0f" stroke-opacity="0.6" stroke-width="1.4" stroke-linejoin="round" fill="none"/>
</g>
<path d="M111.34 62.5v19M111.34 437.25v-19M141.42 62.5v9.5M141.42 437.25v-9.5M171.50 62.5v9.5M171.50 437.25v-9.5M201.58 62.5v9.5M201.58 437.25v-9.5M231.66 62.5v9.5M231.66 437.25v-9.5M261.74 62.5v19M261.74 437.25v-19M291.82 62.5v9.5M291.82 437.25v-9.5M321.90 62.5v9.5M321.90 437.25v-9.5M351.98 62.5v9.5M351.98 437.25v-9.5M382.06 62.5v9.5M382.06 437.25v-9.5M412.14 62.5v19M412.14 437.25v-19M442.22 62.5v9.5M442.22 437.25v-9.5M472.30 62.5v9.5M472.30 437.25v-9.5M502.38 62.5v9.5M502.38 437.25v-9.5M532.46 62.5v9.5M532.46 437.25v-9.5M562.54 62.5v19M562.54 437.25v-19M87.5 77.84h9.5M587.5 77.84h-9.5M87.5 100.01h9.5M587.5 100.01h-9.5M87.5 122.18h9.5M587.5 122.18h-9.5M87.5 144.35h19M587.5 144.35h-19M87.5 166.52h9.5M587.5 166.52h-9.5M87.5 188.69h9.5M587.5 188.69h-9.5M87.5 210.86h9.5M587.5 210.86h-9.5M87.5 233.03h9.5M587.5 233.03h-9.5M87.5 255.20h19M587.5 255.20h-19M87.5 277.37h9.5M587.5 277.37h-9.5M87.5 299.54h9.5M587.5 299.54h-9.5M87.5 321.71h9.5M587.5 321.71h-9.5M87.5 343.88h9.5M587.5 343.88h-9.5M87.5 366.05h19M587.5 366.05h-19M87.5 388.22h9.5M587.5 388.22h-9.5M87.5 410.39h9.5M587.5 410.39h-9.5M87.5 432.56h9.5M587.5 432.56h-9.5" stroke="#000" stroke-width="1" fill="none"/>
<path d="M87.5 62.5H587.5V437.25H87.5Z" stroke="#000" stroke-width="1.1" fill="none"/>
<text x="337.25" y="40.3" font-size="19.6" text-anchor="middle" textLength="197" lengthAdjust="spacingAndGlyphs">OGLE-2026-BLG-0251</text>
<text x="272.9" y="491.4" font-size="19.6" text-anchor="start" textLength="37.2" lengthAdjust="spacingAndGlyphs">HJD</text>
<text x="318.9" y="491.4" font-size="19.6" text-anchor="start" textLength="5.6" lengthAdjust="spacingAndGlyphs">-</text>
<text x="330.4" y="491.4" font-size="19.6" text-anchor="start" textLength="70.6" lengthAdjust="spacingAndGlyphs">2450000</text>
<text x="111.3" y="462.9" font-size="19.9" text-anchor="middle" textLength="41.5" lengthAdjust="spacingAndGlyphs">8000</text>
<text x="261.7" y="462.9" font-size="19.9" text-anchor="middle" textLength="41.5" lengthAdjust="spacingAndGlyphs">9000</text>
<text x="412.5" y="462.9" font-size="19.9" text-anchor="middle" textLength="52.3" lengthAdjust="spacingAndGlyphs">10000</text>
<text x="562.9" y="462.9" font-size="19.9" text-anchor="middle" textLength="52.3" lengthAdjust="spacingAndGlyphs">11000</text>
<text x="78.3" y="150.8" font-size="19.6" text-anchor="end" textLength="21" lengthAdjust="spacingAndGlyphs">18</text>
<text x="78.3" y="261.6" font-size="19.6" text-anchor="end" textLength="36.3" lengthAdjust="spacingAndGlyphs">18.5</text>
<text x="78.3" y="372.4" font-size="19.6" text-anchor="end" textLength="21" lengthAdjust="spacingAndGlyphs">19</text>
<text transform="translate(25.9 249.2) rotate(-90)" font-size="19.6" text-anchor="middle" textLength="105.5" lengthAdjust="spacingAndGlyphs">I magnitude</text>
</svg>
</body></html>
